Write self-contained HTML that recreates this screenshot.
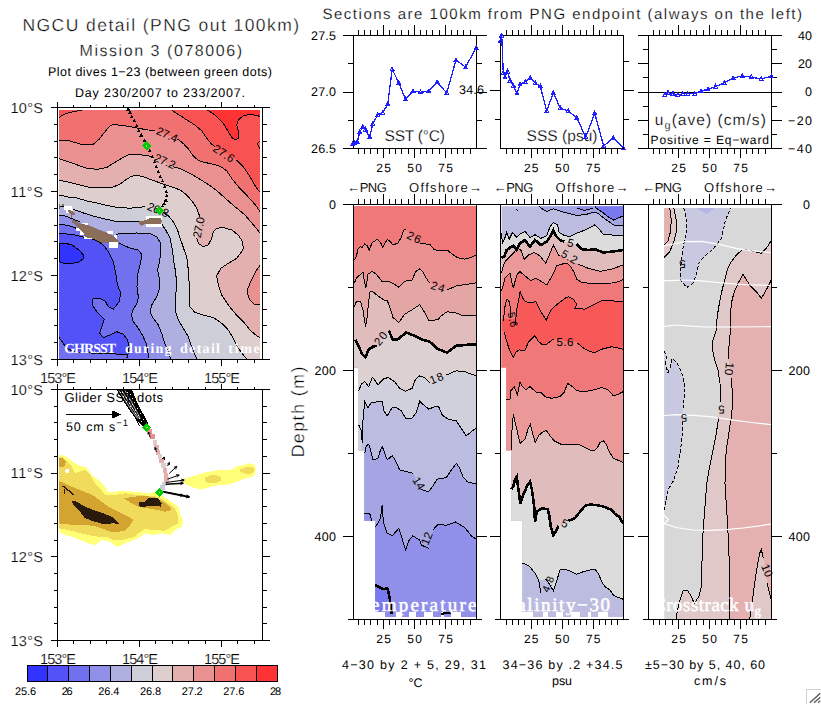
<!DOCTYPE html>
<html><head><meta charset="utf-8"><title>NGCU detail</title>
<style>html,body{margin:0;padding:0;background:#fff}svg{display:block}</style></head>
<body>
<svg width="821" height="704" viewBox="0 0 821 704" font-family='"Liberation Sans", sans-serif' shape-rendering="crispEdges" text-rendering="geometricPrecision">
<rect width="821" height="704" fill="#fff"/>
<text x="22.5" y="30.5" font-size="17.5" textLength="276.5" lengthAdjust="spacing" stroke="#fff" stroke-width="0.35" >NGCU detail (PNG out 100km)</text>
<text x="79.5" y="55.5" font-size="16" textLength="162.5" lengthAdjust="spacing" stroke="#fff" stroke-width="0.26" >Mission 3 (078006)</text>
<text x="48" y="76" font-size="12.5" textLength="224" lengthAdjust="spacing" >Plot dives 1−23 (between green dots)</text>
<text x="75" y="97" font-size="12.5" textLength="170" lengthAdjust="spacing" >Day 230/2007 to 233/2007.</text>
<text x="322.5" y="18.8" font-size="15" textLength="479.5" lengthAdjust="spacing" stroke="#fff" stroke-width="0.2" >Sections are 100km from PNG endpoint (always on the left)</text>
<g>
<rect x="59.0" y="110.0" width="201.2" height="248.5" fill="#f85252"/>
<polygon points="207.5,110.0 215.0,115.0 223.3,123.3 228.3,131.7 231.7,137.5 235.0,140.0 238.3,138.3 238.6,131.7 236.7,125.0 238.3,120.0 243.3,115.8 250.0,114.5 256.7,115.3 260.2,116.7 260.2,110.0" fill="#ff3333" />
<polygon points="59.0,358.5 59.0,117.5 63.3,114.7 68.3,112.8 75.0,111.3 82.5,110.0 171.7,110.0 176.7,113.5 183.3,117.5 186.7,120.0 195.0,125.0 201.7,130.8 206.7,138.3 211.7,144.2 215.0,146.7 236.7,160.0 243.3,166.7 250.0,176.7 256.7,188.3 260.2,192.5 260.2,358.5" fill="#f17171" />
<polygon points="59.0,358.5 59.0,140.8 66.7,140.0 73.3,142.0 81.7,144.5 93.3,144.2 99.2,139.2 105.0,131.7 110.0,125.8 113.3,124.7 121.7,125.3 130.0,126.7 138.3,128.3 148.3,130.0 155.0,130.3 177.5,139.0 183.3,143.5 188.0,148.5 193.2,155.7 198.5,160.6 205.0,162.5 213.3,164.2 220.8,166.7 226.7,170.8 231.7,178.3 238.3,186.7 246.7,195.3 255.0,204.5 260.2,211.7 260.2,358.5" fill="#eb9090" />
<polygon points="59.0,358.5 59.0,158.7 68.3,161.7 78.3,165.3 88.3,168.8 98.3,169.2 106.7,167.5 113.3,163.3 121.7,158.3 128.3,155.0 133.3,154.2 141.7,155.0 148.3,155.8 153.3,156.7 173.3,166.7 181.7,169.2 190.0,173.3 198.3,178.3 203.5,181.5 210.5,186.0 218.3,192.0 225.0,198.0 231.7,204.0 238.3,209.5 245.0,215.0 250.0,221.0 255.0,226.7 260.2,233.3 260.2,358.5" fill="#e4afaf" />
<polygon points="260.2,265.0 256.7,270.0 253.3,276.7 250.0,283.3 247.0,291.0 248.5,297.0 250.5,300.5 254.2,304.5 260.2,305.0" fill="#eb9090" />
<polygon points="59.0,358.5 59.0,180.3 68.3,182.0 78.3,184.7 88.3,187.0 100.0,187.8 111.7,187.5 120.0,184.2 126.7,179.2 131.7,176.2 136.7,175.3 143.3,176.7 151.7,179.9 161.7,183.5 171.7,186.8 180.0,190.0 186.7,195.0 192.5,201.7 196.7,208.3 199.2,215.0 200.0,217.0 196.7,238.3 198.3,243.3 203.3,246.7 208.3,245.0 211.7,238.3 213.3,231.7 216.7,228.3 223.3,227.5 231.7,230.0 238.3,235.0 242.5,241.7 243.3,248.3 241.7,251.7 236.7,258.3 228.3,263.3 220.8,268.3 216.7,275.8 218.3,285.0 221.7,295.0 228.3,305.0 235.0,313.3 243.3,321.7 250.0,330.0 256.7,335.8 260.2,337.5 260.2,358.5" fill="#decece" />
<polygon points="59.0,358.5 59.0,195.0 68.3,197.0 75.0,197.5 88.3,201.3 95.0,202.5 105.0,205.0 115.0,207.0 121.7,207.5 130.0,208.3 138.3,207.3 145.0,206.7 163.0,212.5 168.3,215.8 173.3,221.7 177.5,230.0 180.8,240.0 184.2,250.0 186.7,256.7 188.3,270.0 189.2,283.3 189.2,296.7 190.0,306.7 195.0,312.5 203.3,315.0 213.3,317.5 221.7,323.3 228.3,330.0 233.3,338.3 238.3,348.3 243.3,355.0 246.7,358.5" fill="#ceced9" />
<polygon points="59.0,358.5 59.0,206.0 65.0,207.0 75.0,210.0 85.0,213.5 95.0,216.5 105.0,219.0 115.0,221.2 125.0,221.5 137.0,221.2 141.0,221.4 161.7,224.2 165.8,230.0 170.0,238.3 172.5,250.0 173.3,258.3 175.8,273.3 176.7,286.7 175.0,300.0 175.0,310.0 178.3,320.0 183.3,328.3 188.3,336.7 191.7,346.7 195.0,355.0 196.7,358.5" fill="#afafe0" />
<polygon points="59.0,358.5 59.0,215.0 65.0,216.0 73.0,219.0 80.0,222.0 115.0,235.5 119.0,233.5 125.0,233.3 137.0,233.0 150.0,233.7 156.7,236.7 160.8,243.3 160.8,253.3 159.2,263.3 157.5,270.0 159.2,278.0 160.0,286.7 156.7,296.7 151.7,305.0 150.0,311.7 153.3,318.3 158.3,325.0 161.7,333.3 164.2,341.7 167.5,350.0 170.0,356.7 170.8,358.5" fill="#9090e8" />
<polygon points="59.0,358.5 59.0,224.0 65.0,225.0 72.0,226.5 78.0,229.0 117.0,242.0 125.0,246.0 130.0,248.0 138.3,250.0 142.0,255.0 140.0,265.0 137.5,275.0 137.0,286.7 138.3,296.7 137.5,302.5 133.3,309.2 131.3,315.0 133.3,321.7 138.3,328.3 143.3,336.7 146.7,345.0 148.0,353.3 148.3,358.5" fill="#7171ef" />
<polygon points="59.0,358.5 59.0,233.5 67.0,234.0 75.0,235.0 85.0,237.5 94.0,239.5 99.0,242.0 103.3,245.0 108.3,251.7 113.3,261.7 115.8,273.3 117.5,285.0 120.8,293.3 119.2,301.7 113.3,309.2 108.3,306.7 105.0,300.8 98.3,298.0 92.5,299.2 92.5,305.0 96.7,311.7 104.2,319.2 101.7,326.7 99.7,333.3 103.3,337.5 110.0,335.0 116.7,331.7 123.3,334.2 127.5,340.0 129.2,346.7 128.3,353.3 126.7,358.5" fill="#5252f7" />
<polygon points="59.0,337.5 63.0,343.0 67.0,348.5 75.0,352.0 90.0,353.0 110.0,353.5 126.7,355.0 127.5,358.5 59.0,358.5" fill="#7171ef" />
<polygon points="59.0,244.0 65.0,243.0 72.0,245.0 79.0,250.0 83.5,255.0 83.0,259.0 79.0,262.0 70.0,264.0 63.0,263.0 59.0,261.5" fill="#3333ff" />
<g shape-rendering="crispEdges">
<polyline points="207.5,110.0 215.0,115.0 223.3,123.3 228.3,131.7 231.7,137.5 235.0,140.0 238.3,138.3 238.6,131.7 236.7,125.0 238.3,120.0 243.3,115.8 250.0,114.5 256.7,115.3 260.2,116.7" fill="none" stroke="#000" stroke-width="1" />
<polyline points="260.2,140.8 257.7,143.5 258.5,146.5 260.2,149.2" fill="none" stroke="#000" stroke-width="1" />
<polyline points="59.0,117.5 63.3,114.7 68.3,112.8 75.0,111.3 82.5,110.0" fill="none" stroke="#000" stroke-width="1" />
<polyline points="59.0,233.5 67.0,234.0 75.0,235.0 85.0,237.5 94.0,239.5 99.0,242.0 103.3,245.0 108.3,251.7 113.3,261.7 115.8,273.3 117.5,285.0 120.8,293.3 119.2,301.7 113.3,309.2 108.3,306.7 105.0,300.8 98.3,298.0 92.5,299.2 92.5,305.0 96.7,311.7 104.2,319.2 101.7,326.7 99.7,333.3 103.3,337.5 110.0,335.0 116.7,331.7 123.3,334.2 127.5,340.0 129.2,346.7 128.3,353.3 126.7,358.5" fill="none" stroke="#000" stroke-width="1" />
<polyline points="59.0,337.5 63.0,343.0 67.0,348.5 75.0,352.0 90.0,353.0 110.0,353.5 126.7,355.0" fill="none" stroke="#000" stroke-width="1" />
<polyline points="59.0,244.0 65.0,243.0 72.0,245.0 79.0,250.0 83.5,255.0 83.0,259.0 79.0,262.0 70.0,264.0 63.0,263.0 59.0,261.5 59.0,244.0" fill="none" stroke="#000" stroke-width="1" />
<polyline points="260.2,265.0 256.7,270.0 253.3,276.7 250.0,283.3 247.0,291.0 248.5,297.0 250.5,300.5 254.2,304.5 260.2,305.0" fill="none" stroke="#000" stroke-width="1" />
<polyline points="171.7,110.0 176.7,113.5 183.3,117.5 186.7,120.0 195.0,125.0 201.7,130.8 206.7,138.3 211.7,144.2 215.0,146.7" fill="none" stroke="#000" stroke-width="1" />
<polyline points="236.7,160.0 243.3,166.7 250.0,176.7 256.7,188.3 260.2,192.5" fill="none" stroke="#000" stroke-width="1" />
<polyline points="59.0,140.8 66.7,140.0 73.3,142.0 81.7,144.5 93.3,144.2 99.2,139.2 105.0,131.7 110.0,125.8 113.3,124.7 121.7,125.3 130.0,126.7 138.3,128.3 148.3,130.0 155.0,130.3" fill="none" stroke="#000" stroke-width="1" />
<polyline points="177.5,139.0 183.3,143.5 188.0,148.5 193.2,155.7 198.5,160.6 205.0,162.5 213.3,164.2 220.8,166.7 226.7,170.8 231.7,178.3 238.3,186.7 246.7,195.3 255.0,204.5 260.2,211.7" fill="none" stroke="#000" stroke-width="1" />
<polyline points="59.0,158.7 68.3,161.7 78.3,165.3 88.3,168.8 98.3,169.2 106.7,167.5 113.3,163.3 121.7,158.3 128.3,155.0 133.3,154.2 141.7,155.0 148.3,155.8 153.3,156.7" fill="none" stroke="#000" stroke-width="1" />
<polyline points="173.3,166.7 181.7,169.2 190.0,173.3 198.3,178.3 203.5,181.5 210.5,186.0 218.3,192.0 225.0,198.0 231.7,204.0 238.3,209.5 245.0,215.0 250.0,221.0 255.0,226.7 260.2,233.3" fill="none" stroke="#000" stroke-width="1" />
<polyline points="59.0,180.3 68.3,182.0 78.3,184.7 88.3,187.0 100.0,187.8 111.7,187.5 120.0,184.2 126.7,179.2 131.7,176.2 136.7,175.3 143.3,176.7 151.7,179.9 161.7,183.5 171.7,186.8 180.0,190.0 186.7,195.0 192.5,201.7 196.7,208.3 199.2,215.0 200.0,217.0" fill="none" stroke="#000" stroke-width="1" />
<polyline points="196.7,238.3 198.3,243.3 203.3,246.7 208.3,245.0 211.7,238.3 213.3,231.7 216.7,228.3 223.3,227.5 231.7,230.0 238.3,235.0 242.5,241.7 243.3,248.3 241.7,251.7 236.7,258.3 228.3,263.3 220.8,268.3 216.7,275.8 218.3,285.0 221.7,295.0 228.3,305.0 235.0,313.3 243.3,321.7 250.0,330.0 256.7,335.8 260.2,337.5" fill="none" stroke="#000" stroke-width="1" />
<polyline points="59.0,195.0 68.3,197.0 75.0,197.5 88.3,201.3 95.0,202.5 105.0,205.0 115.0,207.0 121.7,207.5 130.0,208.3 138.3,207.3 145.0,206.7" fill="none" stroke="#000" stroke-width="1" />
<polyline points="163.0,212.5 168.3,215.8 173.3,221.7 177.5,230.0 180.8,240.0 184.2,250.0 186.7,256.7 188.3,270.0 189.2,283.3 189.2,296.7 190.0,306.7 195.0,312.5 203.3,315.0 213.3,317.5 221.7,323.3 228.3,330.0 233.3,338.3 238.3,348.3 243.3,355.0 246.7,358.5" fill="none" stroke="#000" stroke-width="1" />
<polyline points="59.0,206.0 65.0,207.0 75.0,210.0 85.0,213.5 95.0,216.5 105.0,219.0 115.0,221.2 125.0,221.5 137.0,221.2 141.0,221.4" fill="none" stroke="#000" stroke-width="1" />
<polyline points="161.7,224.2 165.8,230.0 170.0,238.3 172.5,250.0 173.3,258.3 175.8,273.3 176.7,286.7 175.0,300.0 175.0,310.0 178.3,320.0 183.3,328.3 188.3,336.7 191.7,346.7 195.0,355.0 196.7,358.5" fill="none" stroke="#000" stroke-width="1" />
<polyline points="59.0,215.0 65.0,216.0 73.0,219.0 80.0,222.0" fill="none" stroke="#000" stroke-width="1" />
<polyline points="115.0,235.5 119.0,233.5 125.0,233.3 137.0,233.0 150.0,233.7 156.7,236.7 160.8,243.3 160.8,253.3 159.2,263.3 157.5,270.0 159.2,278.0 160.0,286.7 156.7,296.7 151.7,305.0 150.0,311.7 153.3,318.3 158.3,325.0 161.7,333.3 164.2,341.7 167.5,350.0 170.0,356.7 170.8,358.5" fill="none" stroke="#000" stroke-width="1" />
<polyline points="59.0,224.0 65.0,225.0 72.0,226.5 78.0,229.0" fill="none" stroke="#000" stroke-width="1" />
<polyline points="117.0,242.0 125.0,246.0 130.0,248.0 138.3,250.0 142.0,255.0 140.0,265.0 137.5,275.0 137.0,286.7 138.3,296.7 137.5,302.5 133.3,309.2 131.3,315.0 133.3,321.7 138.3,328.3 143.3,336.7 146.7,345.0 148.0,353.3 148.3,358.5" fill="none" stroke="#000" stroke-width="1" />
</g>
<rect x="64" y="206" width="8" height="4" fill="#fff"/>
<rect x="66" y="209" width="7" height="4" fill="#fff"/>
<rect x="75.5" y="228" width="6" height="3" fill="#fff"/>
<rect x="80" y="231" width="5.5" height="4" fill="#fff"/>
<rect x="84" y="235.5" width="10.5" height="3.5" fill="#fff"/>
<rect x="82" y="223" width="6" height="2.5" fill="#fff"/>
<rect x="107" y="231" width="6" height="3" fill="#fff"/>
<rect x="113.5" y="235" width="3.5" height="4.5" fill="#fff"/>
<rect x="109" y="242" width="8.5" height="6" fill="#fff"/>
<rect x="146" y="216" width="16" height="4.5" fill="#fff"/>
<rect x="146" y="223.5" width="15.5" height="3.5" fill="#fff"/>
<polygon points="72.0,220.0 75.0,220.5 81.0,224.0 88.0,225.0 97.0,229.0 107.0,233.0 113.0,236.0 117.0,240.0 120.5,242.8 115.0,242.0 109.0,242.5 102.0,243.0 95.0,239.3 85.0,237.0 84.0,233.0 80.0,230.0 75.0,225.0 72.5,222.5" fill="#8b6e5a" />
<polygon points="68.0,210.0 71.0,210.5 75.0,213.0 75.0,215.5 72.0,215.0 69.0,213.0" fill="#8b6e5a" />
<rect x="62" y="204" width="2.2" height="2" fill="#8b6e5a"/><rect x="58.6" y="204" width="1.6" height="4.5" fill="#8b6e5a"/><rect x="70.5" y="215" width="1.5" height="2.5" fill="#8b6e5a"/>
<polygon points="139.0,221.3 139.5,223.5 141.5,226.0 143.5,224.8 146.0,223.8 152.0,223.5 161.0,223.5 162.0,221.0 161.0,218.3 157.0,217.5 150.0,217.5 147.0,219.5 143.0,221.0" fill="#8b6e5a" />
<text x="155.5" y="133.8" font-size="11.5" textLength="22" lengthAdjust="spacing" transform="rotate(24 155.5 133.8)" >27.4</text>
<text x="153.3" y="160.5" font-size="11.5" textLength="22" lengthAdjust="spacing" transform="rotate(24 153.3 160.5)" >27.2</text>
<text x="212" y="150.5" font-size="11.5" textLength="23" lengthAdjust="spacing" transform="rotate(33 212 150.5)" >27.6</text>
<text x="200.5" y="238.5" font-size="11.5" textLength="21" lengthAdjust="spacing" transform="rotate(-78 200.5 238.5)" >27.0</text>
<text x="146.5" y="209.5" font-size="11.5" textLength="22" lengthAdjust="spacing" transform="rotate(22 146.5 209.5)" >26.8</text>
<polygon points="126.4,110.5 130.2,110.5 128.3,107.0" fill="#000" />
<polygon points="128.1,114.0 131.9,114.0 130.0,110.5" fill="#000" />
<polygon points="129.8,118.2 133.6,118.2 131.7,114.7" fill="#000" />
<polygon points="132.3,122.3 136.1,122.3 134.2,118.8" fill="#000" />
<polygon points="134.8,127.3 138.6,127.3 136.7,123.8" fill="#000" />
<polygon points="136.9,132.0 140.7,132.0 138.8,128.5" fill="#000" />
<polygon points="139.4,136.5 143.2,136.5 141.3,133.0" fill="#000" />
<polygon points="142.8,141.8 146.6,141.8 144.7,138.3" fill="#000" />
<polygon points="144.8,147.3 148.6,147.3 146.7,143.8" fill="#000" />
<polygon points="147.8,152.3 151.6,152.3 149.7,148.8" fill="#000" />
<polygon points="150.6,158.2 154.4,158.2 152.5,154.7" fill="#000" />
<polygon points="152.6,163.2 156.4,163.2 154.5,159.7" fill="#000" />
<polygon points="154.4,168.2 158.2,168.2 156.3,164.7" fill="#000" />
<polygon points="156.4,173.2 160.2,173.2 158.3,169.7" fill="#000" />
<polygon points="158.4,177.8 162.2,177.8 160.3,174.3" fill="#000" />
<polygon points="160.6,182.3 164.4,182.3 162.5,178.8" fill="#000" />
<polygon points="162.8,188.2 166.6,188.2 164.7,184.7" fill="#000" />
<polygon points="164.4,193.2 168.2,193.2 166.3,189.7" fill="#000" />
<polygon points="164.8,197.3 168.6,197.3 166.7,193.8" fill="#000" />
<polygon points="163.9,201.5 167.7,201.5 165.8,198.0" fill="#000" />
<polygon points="162.3,204.8 166.1,204.8 164.2,201.3" fill="#000" />
<polygon points="160.6,207.3 164.4,207.3 162.5,203.8" fill="#000" />
<polygon points="157.3,211.8 161.1,211.8 159.2,208.3" fill="#000" />
<polygon points="142.1,145.8 146.7,141.2 151.3,145.8 146.7,150.4" fill="#00cc00" />
<rect x="146.2" y="145.3" width="1.2" height="1.2" fill="#e4afaf"/>
<polygon points="154.8,210.5 159.4,205.9 164.0,210.5 159.4,215.1" fill="#00cc00" />
<rect x="158.9" y="210.0" width="1.2" height="1.2" fill="#e4afaf"/>
<text x="64.2" y="353.3" font-size="14" textLength="52" lengthAdjust="spacing" fill="#fff" font-family='"Liberation Serif", serif' font-weight="bold" >GHRSST</text>
<text x="125" y="353.3" font-size="14" textLength="46.5" lengthAdjust="spacing" fill="#fff" font-family='"Liberation Serif", serif' font-weight="bold" >during</text>
<text x="180" y="353.3" font-size="14" textLength="40" lengthAdjust="spacing" fill="#fff" font-family='"Liberation Serif", serif' font-weight="bold" >detail</text>
<text x="228.3" y="353.3" font-size="14" textLength="31.5" lengthAdjust="spacing" fill="#fff" font-family='"Liberation Serif", serif' font-weight="bold" >time</text>
</g>
<g>
<polygon points="58.7,454.7 65.0,455.8 71.7,460.8 78.3,465.0 86.7,467.5 91.7,475.0 98.3,480.0 105.0,486.7 108.3,492.5 121.7,490.8 135.0,491.7 148.3,493.3 155.0,491.7 161.7,495.0 171.7,501.7 178.3,506.7 180.0,513.3 183.3,521.7 181.7,526.7 175.0,530.0 170.0,535.0 161.7,533.3 153.3,535.0 145.0,533.3 138.3,538.3 133.3,540.0 125.0,543.3 118.3,546.7 113.3,545.0 110.0,541.7 101.7,540.0 95.0,545.0 88.3,543.3 80.0,540.0 71.7,536.7 65.0,535.0 58.7,531.7" fill="#ffff78" />
<polygon points="58.7,456.7 63.3,457.5 66.7,461.7 71.7,466.7 75.0,473.3 85.0,470.0 90.8,475.8 95.0,483.3 100.0,488.3 105.0,495.0 113.3,495.0 125.0,493.3 138.3,495.0 148.3,495.8 158.3,496.7 168.3,503.3 175.0,508.3 177.5,515.0 178.3,523.3 171.7,526.7 165.0,530.8 155.0,530.0 145.0,529.2 138.3,533.3 135.0,536.7 128.3,538.3 121.7,540.0 113.3,540.0 106.7,536.7 98.3,536.7 88.3,535.0 80.0,533.3 71.7,530.8 63.3,529.2 58.7,528.3" fill="#f0dc5a" />
<polygon points="58.7,480.8 65.0,483.3 71.7,486.7 80.0,490.0 88.3,493.3 95.0,496.7 101.7,501.7 108.3,506.7 118.3,511.7 128.3,516.7 133.3,520.0 130.0,525.0 125.0,530.8 118.3,531.7 110.0,531.7 101.7,528.3 93.3,525.8 85.0,525.0 75.0,525.0 65.0,524.2 58.7,523.3" fill="#d4a431" />
<polygon points="58.7,457.5 63.3,458.3 65.8,461.7 65.0,465.8 61.7,467.5 58.7,466.7" fill="#d4a431" />
<polygon points="124.2,498.3 133.3,496.7 145.0,495.8 155.0,497.5 163.3,501.7 170.0,506.7 171.7,510.0 165.0,511.7 158.3,510.0 148.3,508.3 138.3,506.7 131.7,503.3" fill="#d4a431" />
<circle cx="67.3" cy="471" r="2.2" fill="#fff"/>
<polygon points="183.3,479.2 188.3,477.5 196.7,475.0 205.0,472.5 213.3,470.8 221.7,470.0 230.0,470.0 236.7,466.7 243.3,465.0 250.0,463.3 254.2,464.2 255.8,469.2 255.0,475.0 250.0,477.5 243.3,479.2 236.7,481.7 230.0,484.2 223.3,485.0 213.3,485.8 206.7,488.3 200.0,489.2 193.3,487.5 186.7,485.0 183.3,482.5" fill="#ffff78" />
<polygon points="205.0,477.5 211.7,475.0 220.0,475.8 221.7,480.0 216.7,482.5 208.3,483.3 205.0,480.8" fill="#f0dc5a" />
<polygon points="240.0,469.2 246.7,466.7 253.3,467.5 254.2,471.7 250.0,474.2 243.3,473.3 240.0,471.7" fill="#f0dc5a" />
<polygon points="71.7,500.8 76.7,501.7 85.0,506.7 93.3,510.0 103.3,513.3 111.7,516.7 117.5,521.7 120.0,524.2 113.3,523.3 103.3,524.2 95.0,521.7 85.0,518.3 80.0,511.7 73.3,505.0" fill="#2a1a0c" />
<polygon points="139.2,502.5 145.0,501.7 148.3,498.3 158.3,498.3 161.7,503.3 160.8,506.7 155.0,505.8 148.3,505.8 141.7,507.5 139.2,505.8" fill="#2a1a0c" />
<polyline points="62.5,485.8 66.0,488.5 70.0,491.5 73.3,495.0" fill="none" stroke="#2a1a0c" stroke-width="1.4" />
<polyline points="64.0,489.0 64.3,494.0" fill="none" stroke="#2a1a0c" stroke-width="1" />
<polygon points="116.8,390.0 132.3,390.0 137.5,403.0 143.0,413.5 148.0,423.0 144.5,428.5 137.5,421.5 130.5,411.5 122.5,399.5" fill="#000" />
<rect x="119.5" y="391.5" width="1.1" height="1.1" fill="#fff"/>
<rect x="121.5" y="392" width="1.1" height="1.1" fill="#fff"/>
<rect x="124.5" y="393" width="1.1" height="1.1" fill="#fff"/>
<rect x="127" y="392" width="1.1" height="1.1" fill="#fff"/>
<rect x="129.5" y="393.5" width="1.1" height="1.1" fill="#fff"/>
<rect x="126" y="397" width="1.1" height="1.1" fill="#fff"/>
<rect x="123" y="396" width="1.1" height="1.1" fill="#fff"/>
<rect x="129" y="399" width="1.1" height="1.1" fill="#fff"/>
<rect x="131.5" y="397.5" width="1.1" height="1.1" fill="#fff"/>
<rect x="128.5" y="402.5" width="1.1" height="1.1" fill="#fff"/>
<rect x="126" y="400.5" width="1.1" height="1.1" fill="#fff"/>
<rect x="131.5" y="404" width="1.1" height="1.1" fill="#fff"/>
<rect x="134" y="402" width="1.1" height="1.1" fill="#fff"/>
<rect x="132" y="407.5" width="1.1" height="1.1" fill="#fff"/>
<rect x="129.5" y="406" width="1.1" height="1.1" fill="#fff"/>
<rect x="134.5" y="409.5" width="1.1" height="1.1" fill="#fff"/>
<rect x="137" y="408" width="1.1" height="1.1" fill="#fff"/>
<rect x="135" y="412.5" width="1.1" height="1.1" fill="#fff"/>
<rect x="137.5" y="414.5" width="1.1" height="1.1" fill="#fff"/>
<rect x="140" y="413" width="1.1" height="1.1" fill="#fff"/>
<rect x="139" y="418" width="1.1" height="1.1" fill="#fff"/>
<rect x="141" y="420.5" width="1.1" height="1.1" fill="#fff"/>
<rect x="143" y="419" width="1.1" height="1.1" fill="#fff"/>
<polyline points="119.0,390.5 125.0,400.0 132.5,411.5 137.5,418.5" fill="none" stroke="#fff" stroke-width="0.7" shape-rendering="auto"/>
<polyline points="121.8,390.5 127.5,400.0 134.5,411.5 138.8,418.5" fill="none" stroke="#fff" stroke-width="0.7" shape-rendering="auto"/>
<polyline points="125.0,390.5 130.4,400.0 136.7,411.5 140.2,418.5" fill="none" stroke="#fff" stroke-width="0.7" shape-rendering="auto"/>
<polyline points="139.5,426.0 135.3,417.5 139.5,421.0" fill="none" stroke="#000" stroke-width="1" />
<rect x="147.1" y="429.3" width="4.4" height="4.8" fill="#eb9090"/>
<rect x="150.2" y="434.2" width="4.4" height="4.8" fill="#eb9090"/>
<rect x="152.6" y="439.7" width="4.4" height="4.8" fill="#decece"/>
<rect x="154.4" y="445.2" width="4.4" height="4.8" fill="#e4afaf"/>
<rect x="156.0" y="450.0" width="4.4" height="4.8" fill="#e4afaf"/>
<rect x="157.5" y="454.3" width="4.4" height="4.8" fill="#decece"/>
<rect x="159.3" y="458.6" width="4.4" height="4.8" fill="#e4afaf"/>
<rect x="161.1" y="463.4" width="4.4" height="4.8" fill="#decece"/>
<rect x="162.6" y="468.1" width="4.4" height="4.8" fill="#e4afaf"/>
<rect x="163.8" y="472.6" width="4.4" height="4.8" fill="#e4afaf"/>
<rect x="164.1" y="477.1" width="4.4" height="4.8" fill="#e4afaf"/>
<rect x="162.3" y="481.6" width="4.4" height="4.8" fill="#ceced9"/>
<rect x="160.3" y="485.1" width="4.4" height="4.8" fill="#ceced9"/>
<polyline points="164.7,483.5 160.0,491.5" fill="none" stroke="#ceced9" stroke-width="3.4" />
<g shape-rendering="auto">
<polyline points="163.5,459.0 164.3,457.0" fill="none" stroke="#000" stroke-width="1" />
<polyline points="164.3,457.0 164.5,460.0" fill="none" stroke="#000" stroke-width="1" />
<polyline points="164.3,457.0 162.1,459.0" fill="none" stroke="#000" stroke-width="1" />
<polyline points="167.5,466.0 169.5,462.5" fill="none" stroke="#000" stroke-width="1" />
<polyline points="169.5,462.5 169.3,465.0" fill="none" stroke="#000" stroke-width="1" />
<polyline points="169.5,462.5 167.4,463.9" fill="none" stroke="#000" stroke-width="1" />
<polyline points="169.2,473.5 176.8,466.3" fill="none" stroke="#000" stroke-width="1" />
<polyline points="176.8,466.3 175.7,469.3" fill="none" stroke="#000" stroke-width="1" />
<polyline points="176.8,466.3 173.8,467.3" fill="none" stroke="#000" stroke-width="1" />
<polyline points="167.5,479.2 179.2,475.0" fill="none" stroke="#000" stroke-width="1" />
<polyline points="179.2,475.0 177.0,477.3" fill="none" stroke="#000" stroke-width="1" />
<polyline points="179.2,475.0 176.0,474.7" fill="none" stroke="#000" stroke-width="1" />
<polyline points="165.8,482.5 184.2,480.0" fill="none" stroke="#000" stroke-width="1" />
<polyline points="184.2,480.0 181.5,481.8" fill="none" stroke="#000" stroke-width="1" />
<polyline points="184.2,480.0 181.2,479.0" fill="none" stroke="#000" stroke-width="1" />
<polyline points="165.8,484.2 183.3,483.2" fill="none" stroke="#000" stroke-width="1.6" />
<polyline points="183.3,483.2 180.5,484.8" fill="none" stroke="#000" stroke-width="1" />
<polyline points="183.3,483.2 180.3,482.0" fill="none" stroke="#000" stroke-width="1" />
<polyline points="162.5,491.7 189.5,497.0" fill="none" stroke="#000" stroke-width="1.8" />
<polyline points="189.5,497.0 186.0,497.9" fill="none" stroke="#000" stroke-width="1" />
<polyline points="189.5,497.0 186.6,494.8" fill="none" stroke="#000" stroke-width="1" />
<polyline points="162.5,491.7 183.0,495.5" fill="none" stroke="#000" stroke-width="1.2" />
<polyline points="183.0,495.5 180.1,496.3" fill="none" stroke="#000" stroke-width="1" />
<polyline points="183.0,495.5 180.6,493.7" fill="none" stroke="#000" stroke-width="1" />
<polyline points="150.2,437.5 148.4,432.0" fill="none" stroke="#000" stroke-width="1" />
<polyline points="148.4,432.0 150.1,433.8" fill="none" stroke="#000" stroke-width="1" />
<polyline points="148.4,432.0 148.1,434.5" fill="none" stroke="#000" stroke-width="1" />
<polyline points="156.5,452.0 155.2,447.5" fill="none" stroke="#000" stroke-width="1" />
<polyline points="155.2,447.5 156.9,449.4" fill="none" stroke="#000" stroke-width="1" />
<polyline points="155.2,447.5 154.8,450.0" fill="none" stroke="#000" stroke-width="1" />
</g>
<polygon points="142.2,427.5 146.8,422.9 151.4,427.5 146.8,432.1" fill="#00cc00" />
<rect x="146.3" y="427.0" width="1.2" height="1.2" fill="#e4afaf"/>
<polygon points="154.8,492.6 159.4,488.0 164.0,492.6 159.4,497.2" fill="#00cc00" />
<rect x="158.9" y="492.1" width="1.2" height="1.2" fill="#e4afaf"/>
<text x="64.5" y="402.3" font-size="13" textLength="98.5" lengthAdjust="spacing" >Glider SST dots</text>
<rect x="66.00" y="414.00" width="48.00" height="1" fill="#000"/>
<polygon points="112.0,410.3 121.3,414.5 112.0,418.7" fill="#000" />
<text x="66" y="431" font-size="12.5" textLength="62" lengthAdjust="spacing">50 cm s<tspan font-size="9.5" dy="-5">−1</tspan></text>
</g>
<clipPath id="ct"><polygon points="354.0,206.0 354.0,367.5 358.0,367.5 358.0,450.5 364.2,450.5 364.2,520.8 375.2,520.8 375.2,611.8 476.3,611.8 476.3,206.0"/></clipPath>
<g clip-path="url(#ct)">
<rect x="354" y="205" width="123" height="413" fill="#f07878"/>
<polygon points="354.0,617.0 354.0,260.0 354.3,260.0 356.3,256.7 358.0,249.2 360.5,246.7 362.2,247.5 364.7,243.7 367.2,245.8 369.3,250.0 372.2,242.5 377.2,239.5 380.5,242.5 382.7,247.2 387.2,239.5 390.5,241.7 393.0,245.0 398.0,243.0 401.3,237.5 403.8,230.0 405.5,229.2 419.7,243.7 429.7,244.2 433.8,249.2 438.0,250.8 447.2,250.0 452.2,254.2 457.2,257.5 464.7,259.2 471.3,257.5 476.3,254.7 476.3,254.7 476.3,617.0" fill="#eb9090" />
<polygon points="354.0,617.0 354.0,283.3 354.3,283.3 356.3,278.3 359.7,275.0 363.0,272.5 364.7,283.3 366.0,287.5 368.0,274.2 372.2,271.3 376.3,274.2 382.2,281.7 388.0,281.2 393.0,283.3 398.8,287.2 404.7,281.2 412.2,280.0 415.5,271.7 419.7,268.8 423.0,271.7 426.3,278.3 429.7,283.3 447.2,290.0 456.3,285.8 464.7,284.7 476.3,282.8 476.3,282.8 476.3,617.0" fill="#e4a5a5" />
<polygon points="354.0,617.0 354.0,306.7 354.3,306.7 356.3,301.7 360.5,301.3 363.0,310.0 365.5,326.7 367.2,316.7 368.8,300.0 370.0,292.0 372.2,291.3 378.0,295.8 383.8,300.0 387.2,300.5 389.7,306.7 393.0,317.5 398.8,322.5 404.7,314.2 413.0,309.2 419.7,304.7 424.7,312.5 428.8,320.8 438.0,319.7 441.3,315.8 447.2,311.7 456.3,313.0 463.0,315.8 476.3,315.8 476.3,315.8 476.3,617.0" fill="#e0bcbc" />
<polygon points="354.0,617.0 354.0,340.0 355.5,340.0 358.8,346.7 362.2,354.2 365.5,357.5 368.8,349.2 373.0,346.7 377.2,345.8 388.8,330.8 393.0,340.0 398.0,339.2 406.3,332.5 414.7,335.8 421.3,339.2 429.7,341.7 438.0,349.2 447.2,352.5 456.3,345.8 464.7,345.0 476.3,344.2 476.3,344.2 476.3,617.0" fill="#dcd0d0" />
<polygon points="354.0,617.0 354.0,390.8 358.8,390.8 361.3,384.2 364.7,381.7 368.8,386.7 372.2,377.5 374.7,380.0 378.0,385.0 383.0,379.2 388.0,377.5 394.7,381.7 399.7,388.3 405.5,391.3 412.2,388.3 415.5,379.2 419.7,375.8 424.7,377.5 429.7,382.5 446.3,375.0 456.3,370.8 464.7,371.7 476.3,375.8 476.3,375.8 476.3,617.0" fill="#d0d0dc" />
<polygon points="354.0,617.0 354.0,452.0 357.0,452.0 362.4,452.0 362.4,442.5 363.0,420.0 364.7,401.7 368.0,407.5 371.3,402.5 382.2,401.3 383.8,410.8 387.2,415.8 392.2,407.5 396.3,407.5 401.3,410.8 405.5,418.0 412.2,418.0 416.3,412.5 419.7,401.3 423.8,405.0 428.8,409.2 434.7,406.7 438.8,407.0 442.2,415.0 448.0,419.2 456.3,420.8 461.3,428.3 466.3,435.8 471.3,431.7 476.3,428.0 476.3,428.0 476.3,617.0" fill="#bcbce0" />
<polygon points="354.0,617.0 354.0,453.3 364.7,453.3 366.3,445.8 368.8,444.2 370.5,450.0 373.0,460.0 378.0,458.3 380.5,450.0 382.2,446.3 384.7,453.3 387.2,459.7 392.2,455.8 394.7,459.2 399.7,470.0 406.3,471.7 413.0,473.3 421.3,489.2 428.0,492.0 431.3,488.3 437.2,479.2 446.3,477.5 451.3,470.0 456.3,463.3 459.7,468.3 463.0,476.7 467.2,481.7 476.3,484.2 476.3,484.2 476.3,617.0" fill="#a5a5e4" />
<polygon points="364.0,617.0 364.0,513.0 364.2,513.0 369.7,513.3 371.7,520.8 371.7,527.0 375.2,527.0 375.2,527.0 377.2,524.2 380.5,518.3 382.2,505.0 383.3,521.7 387.2,533.3 392.2,535.8 398.8,528.3 401.3,535.8 405.5,550.0 408.8,540.8 412.7,535.8 419.7,540.0 421.3,545.0 428.8,548.3 433.0,530.0 438.0,524.2 446.3,525.3 455.5,522.0 464.7,527.5 471.3,535.8 476.3,539.2 476.3,539.2 476.3,617.0" fill="#9090eb" />
<polygon points="375.2,585.0 378.8,586.7 383.0,589.2 387.2,588.3 388.8,593.3 390.5,603.3 391.7,614.2 375.0,614.2" fill="#7878f0" />
</g>
<rect x="385" y="611.5" width="10.5" height="5.2" fill="#9090eb"/>
<rect x="402" y="611.5" width="7" height="5.2" fill="#9090eb"/>
<rect x="415.5" y="611.5" width="8.5" height="5.2" fill="#9090eb"/>
<rect x="433" y="611.5" width="8.300000000000011" height="5.2" fill="#9090eb"/>
<rect x="443.8" y="611.5" width="7.5" height="5.2" fill="#9090eb"/>
<rect x="460.5" y="611.5" width="15.800000000000011" height="5.2" fill="#9090eb"/>
<g>
<polyline points="354.3,260.0 356.3,256.7 358.0,249.2 360.5,246.7 362.2,247.5 364.7,243.7 367.2,245.8 369.3,250.0 372.2,242.5 377.2,239.5 380.5,242.5 382.7,247.2 387.2,239.5 390.5,241.7 393.0,245.0 398.0,243.0 401.3,237.5 403.8,230.0 405.5,229.2" fill="none" stroke="#000" stroke-width="1" shape-rendering="crispEdges"/>
<polyline points="419.7,243.7 429.7,244.2 433.8,249.2 438.0,250.8 447.2,250.0 452.2,254.2 457.2,257.5 464.7,259.2 471.3,257.5 476.3,254.7" fill="none" stroke="#000" stroke-width="1" shape-rendering="crispEdges"/>
<polyline points="354.3,283.3 356.3,278.3 359.7,275.0 363.0,272.5 364.7,283.3 366.0,287.5 368.0,274.2 372.2,271.3 376.3,274.2 382.2,281.7 388.0,281.2 393.0,283.3 398.8,287.2 404.7,281.2 412.2,280.0 415.5,271.7 419.7,268.8 423.0,271.7 426.3,278.3 429.7,283.3" fill="none" stroke="#000" stroke-width="1" shape-rendering="crispEdges"/>
<polyline points="447.2,290.0 456.3,285.8 464.7,284.7 476.3,282.8" fill="none" stroke="#000" stroke-width="1" shape-rendering="crispEdges"/>
<polyline points="354.3,306.7 356.3,301.7 360.5,301.3 363.0,310.0 365.5,326.7 367.2,316.7 368.8,300.0 370.0,292.0 372.2,291.3 378.0,295.8 383.8,300.0 387.2,300.5 389.7,306.7 393.0,317.5 398.8,322.5 404.7,314.2 413.0,309.2 419.7,304.7 424.7,312.5 428.8,320.8 438.0,319.7 441.3,315.8 447.2,311.7 456.3,313.0 463.0,315.8 476.3,315.8" fill="none" stroke="#000" stroke-width="1" shape-rendering="crispEdges"/>
<polyline points="358.8,390.8 361.3,384.2 364.7,381.7 368.8,386.7 372.2,377.5 374.7,380.0 378.0,385.0 383.0,379.2 388.0,377.5 394.7,381.7 399.7,388.3 405.5,391.3 412.2,388.3 415.5,379.2 419.7,375.8 424.7,377.5 429.7,382.5" fill="none" stroke="#000" stroke-width="1" shape-rendering="crispEdges"/>
<polyline points="446.3,375.0 456.3,370.8 464.7,371.7 476.3,375.8" fill="none" stroke="#000" stroke-width="1" shape-rendering="crispEdges"/>
<polyline points="358.8,425.0 361.3,430.8 362.2,442.5 363.0,420.0 364.7,401.7 368.0,407.5 371.3,402.5 382.2,401.3 383.8,410.8 387.2,415.8 392.2,407.5 396.3,407.5 401.3,410.8 405.5,418.0 412.2,418.0 416.3,412.5 419.7,401.3 423.8,405.0 428.8,409.2 434.7,406.7 438.8,407.0 442.2,415.0 448.0,419.2 456.3,420.8 461.3,428.3 466.3,435.8 471.3,431.7 476.3,428.0" fill="none" stroke="#000" stroke-width="1" shape-rendering="crispEdges"/>
<polyline points="364.7,453.3 366.3,445.8 368.8,444.2 370.5,450.0 373.0,460.0 378.0,458.3 380.5,450.0 382.2,446.3 384.7,453.3 387.2,459.7 392.2,455.8 394.7,459.2 399.7,470.0 406.3,471.7 413.0,473.3" fill="none" stroke="#000" stroke-width="1" shape-rendering="crispEdges"/>
<polyline points="421.3,489.2 428.0,492.0 431.3,488.3 437.2,479.2 446.3,477.5 451.3,470.0 456.3,463.3 459.7,468.3 463.0,476.7 467.2,481.7 476.3,484.2" fill="none" stroke="#000" stroke-width="1" shape-rendering="crispEdges"/>
<polyline points="375.2,527.0 377.2,524.2 380.5,518.3 382.2,505.0 383.3,521.7 387.2,533.3 392.2,535.8 398.8,528.3 401.3,535.8 405.5,550.0 408.8,540.8 412.7,535.8 419.7,540.0 421.3,545.0 428.8,548.3" fill="none" stroke="#000" stroke-width="1" shape-rendering="crispEdges"/>
<polyline points="433.0,530.0 438.0,524.2 446.3,525.3 455.5,522.0 464.7,527.5 471.3,535.8 476.3,539.2" fill="none" stroke="#000" stroke-width="1" shape-rendering="crispEdges"/>
<polyline points="364.2,513.0 369.7,513.3 371.7,520.8" fill="none" stroke="#000" stroke-width="1" shape-rendering="crispEdges"/>
<polyline points="355.5,340.0 358.8,346.7 362.2,354.2 365.5,357.5 368.8,349.2 373.0,346.7 377.2,345.8" fill="none" stroke="#000" stroke-width="2.6" />
<polyline points="388.8,330.8 393.0,340.0 398.0,339.2 406.3,332.5 414.7,335.8 421.3,339.2 429.7,341.7 438.0,349.2 447.2,352.5 456.3,345.8 464.7,345.0 476.3,344.2" fill="none" stroke="#000" stroke-width="2.6" />
<polyline points="375.2,585.0 378.8,586.7 383.0,589.2 387.2,588.3 388.8,593.3 390.5,603.3 391.7,614.2" fill="none" stroke="#000" stroke-width="2.6" />
<polyline points="441.3,614.5 445.0,613.0 450.5,612.8" fill="none" stroke="#000" stroke-width="2.4" />
</g>
<text x="406" y="238" font-size="11.5" textLength="14" lengthAdjust="spacing" transform="rotate(25 406 238)" >26</text>
<text x="430" y="288.5" font-size="11.5" textLength="14" lengthAdjust="spacing" transform="rotate(18 430 288.5)" >24</text>
<text x="379.5" y="346.5" font-size="11.5" textLength="14" lengthAdjust="spacing" transform="rotate(-52 379.5 346.5)" >20</text>
<text x="431.5" y="384.5" font-size="11.5" textLength="14" lengthAdjust="spacing" transform="rotate(-22 431.5 384.5)" >18</text>
<text x="412" y="480" font-size="11.5" textLength="13" lengthAdjust="spacing" transform="rotate(58 412 480)" >14</text>
<text x="428" y="546" font-size="11.5" textLength="13" lengthAdjust="spacing" transform="rotate(-68 428 546)" >12</text>
<text x="358.5" y="611.3" font-size="19" textLength="118" lengthAdjust="spacing" fill="#fff" font-family='"Liberation Serif", serif' stroke="#fff" stroke-width="0.5">Temperature</text>
<clipPath id="cs"><polygon points="501.6,206.3 501.6,367.5 506.3,367.5 506.3,450.5 511.2,450.5 511.2,520.8 522.2,520.8 522.2,611.8 623.2,611.8 623.2,206.3"/></clipPath>
<g clip-path="url(#cs)">
<rect x="500" y="205" width="125" height="413" fill="#bcbce0"/>
<polygon points="539.0,206.3 541.2,208.2 546.8,211.5 553.5,208.7 563.0,212.1 575.4,215.2 584.3,214.9 594.4,212.1 597.8,213.2 603.4,217.7 613.5,225.0 623.0,225.3 623.2,206.0" fill="#a5a5e4" />
<polygon points="595.0,206.3 596.1,208.2 602.3,212.1 607.9,216.6 613.5,220.0 623.0,216.0 623.2,206.0" fill="#7878f0" />
<polygon points="577.0,206.3 577.5,208.2 584.3,210.4 593.3,208.2 593.5,206.3" fill="#9090eb" />
<polygon points="501.0,617.0 501.0,233.3 501.3,233.3 502.5,243.3 504.2,240.0 506.7,232.5 509.2,239.2 512.5,232.5 516.7,237.5 520.0,234.2 525.0,231.3 530.0,237.5 535.0,234.7 540.8,238.3 546.7,235.8 550.0,226.7 553.3,222.5 557.5,225.0 559.2,232.5 565.0,235.8 570.0,236.3 576.7,233.3 585.0,230.0 591.7,226.7 595.0,224.7 598.3,228.3 603.3,234.2 611.7,235.0 623.0,235.0 623.2,235.0 623.2,617.0" fill="#dcdcdc" />
<polygon points="501.0,617.0 501.0,257.5 501.3,257.5 504.2,256.7 506.7,250.0 510.0,247.5 513.3,245.8 516.7,250.0 520.0,243.3 525.0,240.0 530.0,246.7 535.0,240.0 540.8,245.0 546.7,241.7 550.8,235.8 553.3,230.0 555.8,235.8 560.0,240.0 564.2,241.7 576.7,244.2 581.7,249.2 588.3,250.0 595.0,249.2 603.3,252.5 611.7,251.7 623.0,250.0 623.2,250.0 623.2,617.0" fill="#e0bcbc" />
<polygon points="501.0,617.0 501.0,273.3 501.3,273.3 503.3,265.8 505.0,261.7 508.3,258.3 513.3,253.3 517.5,248.3 520.8,250.0 524.2,259.2 528.3,255.0 534.2,252.5 540.0,255.8 545.8,263.3 550.0,253.3 553.3,245.0 556.7,251.7 559.2,255.8 578.3,264.2 588.3,268.3 600.0,271.3 611.7,269.2 623.0,265.0 623.2,265.0 623.2,617.0" fill="#ea9898" />
<polygon points="501.0,617.0 501.0,290.8 501.3,290.8 503.3,285.0 505.0,278.3 507.5,275.8 510.0,273.3 511.7,281.7 513.3,288.3 515.8,278.3 517.5,274.2 520.0,271.7 525.0,275.8 530.8,280.8 535.8,278.3 541.7,281.7 546.7,285.0 550.8,278.3 554.2,271.7 556.7,265.8 561.7,264.2 566.7,263.0 570.8,266.7 574.2,272.5 576.7,279.2 581.7,282.5 590.0,283.3 601.7,283.3 611.7,283.0 618.3,281.7 623.0,279.7 623.2,279.7 623.2,617.0" fill="#f07878" />
<polygon points="501.0,331.0 501.0,319.0 515.0,319.0 515.3,325.0 516.7,310.0 518.5,301.0 520.2,291.3 522.4,297.5 525.3,301.5 529.8,302.6 535.8,301.7 540.8,311.7 546.3,320.0 550.8,310.0 558.3,303.3 565.0,298.3 568.3,296.7 573.3,299.2 576.7,304.2 575.0,308.3 585.0,309.2 593.3,305.0 603.3,300.0 611.7,300.8 623.0,301.7 623.2,349.2 623.0,349.2 611.7,346.7 601.7,349.2 594.2,353.0 585.0,349.2 576.7,342.5 553.3,339.2 546.9,344.1 541.7,344.1 537.8,340.7 534.9,335.6 528.7,341.8 524.7,350.9 519.0,349.8 516.2,352.0 513.3,357.7 509.4,349.8 506.5,340.7 504.2,331.6" fill="#f85858" />
<polygon points="501.0,617.0 501.0,400.0 506.3,400.0 510.0,399.2 510.8,390.8 514.2,386.7 517.5,395.0 520.0,382.5 522.5,386.7 525.8,390.0 530.0,386.7 536.7,392.5 540.8,392.5 545.0,396.7 551.7,398.3 560.0,396.7 564.2,392.5 567.5,383.3 572.5,386.7 576.7,390.8 585.0,391.7 593.3,390.0 601.7,387.5 608.3,390.0 613.3,395.8 618.3,394.2 623.0,391.7 623.2,391.7 623.2,617.0" fill="#ea9898" />
<polygon points="501.0,617.0 501.0,450.0 511.2,450.0 511.7,433.3 513.3,414.2 515.8,425.0 520.0,443.3 525.0,439.2 528.3,428.3 530.3,424.2 532.5,433.3 535.3,442.5 539.2,435.0 543.3,431.7 546.3,430.3 550.0,435.8 554.2,440.8 560.8,444.2 567.5,445.0 571.7,444.2 578.3,444.2 585.0,447.5 590.0,450.0 594.2,450.8 597.5,447.5 600.0,442.5 603.3,440.8 606.3,444.2 609.2,451.7 613.3,458.3 618.3,460.3 623.0,462.5 623.2,462.5 623.2,617.0" fill="#e0bcbc" />
<polygon points="501.0,617.0 501.0,489.2 511.2,489.2 513.3,486.7 515.0,479.2 516.7,476.7 518.3,488.3 520.3,503.3 523.3,495.0 527.5,485.0 530.0,481.7 532.0,490.0 534.2,506.7 535.0,521.7 536.7,511.7 541.7,508.3 547.5,509.2 549.2,515.0 550.8,526.7 553.3,535.0 556.7,530.0 558.3,525.8 568.3,520.8 575.0,518.3 580.0,511.7 585.0,505.8 590.0,504.5 598.3,505.3 605.0,507.0 611.7,510.0 615.0,514.0 619.2,516.7 623.0,523.3 623.2,523.3 623.2,617.0" fill="#dcdcdc" />
<polygon points="501.0,617.0 501.0,563.3 522.2,563.3 525.8,564.2 530.0,566.7 535.0,573.3 538.7,580.0 545.8,579.2 550.0,585.0 553.3,590.8 556.7,580.8 560.0,570.0 565.0,569.2 571.7,571.7 576.7,574.2 583.3,571.7 590.0,570.0 595.0,569.2 598.3,573.3 601.7,581.7 605.0,586.7 610.0,590.0 613.3,595.0 618.3,597.5 623.0,599.2 623.2,599.2 623.2,617.0" fill="#bcbce0" />
</g>
<rect x="532.5" y="611.5" width="10.799999999999955" height="5.2" fill="#bcbce0"/>
<rect x="548.3" y="611.5" width="7.5" height="5.2" fill="#bcbce0"/>
<rect x="563.3" y="611.5" width="7.5" height="5.2" fill="#bcbce0"/>
<rect x="580" y="611.5" width="8.299999999999955" height="5.2" fill="#bcbce0"/>
<rect x="590.8" y="611.5" width="7.5" height="5.2" fill="#bcbce0"/>
<rect x="608.3" y="611.5" width="14.900000000000091" height="5.2" fill="#bcbce0"/>
<polyline points="539.0,206.3 541.2,208.2 546.8,211.5 553.5,208.7 563.0,212.1 575.4,215.2 584.3,214.9 594.4,212.1 597.8,213.2 603.4,217.7 613.5,225.0 623.0,225.3" fill="none" stroke="#000" stroke-width="1" shape-rendering="crispEdges"/>
<polyline points="595.0,206.3 596.1,208.2 602.3,212.1 607.9,216.6 613.5,220.0 623.0,216.0" fill="none" stroke="#000" stroke-width="1" shape-rendering="crispEdges"/>
<polyline points="577.5,208.2 584.3,210.4 593.3,208.2" fill="none" stroke="#000" stroke-width="1" shape-rendering="crispEdges"/>
<polyline points="501.3,233.3 502.5,243.3 504.2,240.0 506.7,232.5 509.2,239.2 512.5,232.5 516.7,237.5 520.0,234.2 525.0,231.3 530.0,237.5 535.0,234.7 540.8,238.3 546.7,235.8 550.0,226.7 553.3,222.5 557.5,225.0 559.2,232.5 565.0,235.8 570.0,236.3 576.7,233.3 585.0,230.0 591.7,226.7 595.0,224.7 598.3,228.3 603.3,234.2 611.7,235.0 623.0,235.0" fill="none" stroke="#000" stroke-width="1" shape-rendering="crispEdges"/>
<polyline points="501.3,290.8 503.3,285.0 505.0,278.3 507.5,275.8 510.0,273.3 511.7,281.7 513.3,288.3 515.8,278.3 517.5,274.2 520.0,271.7 525.0,275.8 530.8,280.8 535.8,278.3 541.7,281.7 546.7,285.0 550.8,278.3 554.2,271.7 556.7,265.8 561.7,264.2 566.7,263.0 570.8,266.7 574.2,272.5 576.7,279.2 581.7,282.5 590.0,283.3 601.7,283.3 611.7,283.0 618.3,281.7 623.0,279.7" fill="none" stroke="#000" stroke-width="1" shape-rendering="crispEdges"/>
<polyline points="515.3,325.0 516.7,310.0 518.5,301.0 520.2,291.3 522.4,297.5 525.3,301.5 529.8,302.6 535.8,301.7 540.8,311.7 546.3,320.0 550.8,310.0 558.3,303.3 565.0,298.3 568.3,296.7 573.3,299.2 576.7,304.2 575.0,308.3 585.0,309.2 593.3,305.0 603.3,300.0 611.7,300.8 623.0,301.7" fill="none" stroke="#000" stroke-width="1" shape-rendering="crispEdges"/>
<polyline points="503.1,321.4 504.2,313.4 505.4,303.2 507.1,299.2 509.4,302.0 510.5,308.9 510.0,318.0" fill="none" stroke="#000" stroke-width="1" shape-rendering="crispEdges"/>
<polyline points="506.3,400.0 510.0,399.2 510.8,390.8 514.2,386.7 517.5,395.0 520.0,382.5 522.5,386.7 525.8,390.0 530.0,386.7 536.7,392.5 540.8,392.5 545.0,396.7 551.7,398.3 560.0,396.7 564.2,392.5 567.5,383.3 572.5,386.7 576.7,390.8 585.0,391.7 593.3,390.0 601.7,387.5 608.3,390.0 613.3,395.8 618.3,394.2 623.0,391.7" fill="none" stroke="#000" stroke-width="1" shape-rendering="crispEdges"/>
<polyline points="511.2,450.0 511.7,433.3 513.3,414.2 515.8,425.0 520.0,443.3 525.0,439.2 528.3,428.3 530.3,424.2 532.5,433.3 535.3,442.5 539.2,435.0 543.3,431.7 546.3,430.3 550.0,435.8 554.2,440.8 560.8,444.2 567.5,445.0 571.7,444.2 578.3,444.2 585.0,447.5 590.0,450.0 594.2,450.8 597.5,447.5 600.0,442.5 603.3,440.8 606.3,444.2 609.2,451.7 613.3,458.3 618.3,460.3 623.0,462.5" fill="none" stroke="#000" stroke-width="1" shape-rendering="crispEdges"/>
<polyline points="501.3,273.3 503.3,265.8 505.0,261.7 508.3,258.3 513.3,253.3 517.5,248.3 520.8,250.0 524.2,259.2 528.3,255.0 534.2,252.5 540.0,255.8 545.8,263.3 550.0,253.3 553.3,245.0 556.7,251.7 559.2,255.8" fill="none" stroke="#000" stroke-width="1" shape-rendering="crispEdges"/>
<polyline points="578.3,264.2 588.3,268.3 600.0,271.3 611.7,269.2 623.0,265.0" fill="none" stroke="#000" stroke-width="1" shape-rendering="crispEdges"/>
<polyline points="504.2,331.6 506.5,340.7 509.4,349.8 513.3,357.7 516.2,352.0 519.0,349.8 524.7,350.9 528.7,341.8 534.9,335.6 537.8,340.7 541.7,344.1 546.9,344.1 553.3,339.2" fill="none" stroke="#000" stroke-width="1" shape-rendering="crispEdges"/>
<polyline points="576.7,342.5 585.0,349.2 594.2,353.0 601.7,349.2 611.7,346.7 623.0,349.2" fill="none" stroke="#000" stroke-width="1" shape-rendering="crispEdges"/>
<polyline points="522.2,563.3 525.8,564.2 530.0,566.7 535.0,573.3 538.7,580.0 540.0,588.3 540.8,593.3" fill="none" stroke="#000" stroke-width="1" shape-rendering="crispEdges"/>
<polyline points="545.8,579.2 550.0,585.0 553.3,590.8 556.7,580.8 560.0,570.0 565.0,569.2 571.7,571.7 576.7,574.2 583.3,571.7 590.0,570.0 595.0,569.2 598.3,573.3 601.7,581.7 605.0,586.7 610.0,590.0 613.3,595.0 618.3,597.5 623.0,599.2" fill="none" stroke="#000" stroke-width="1" shape-rendering="crispEdges"/>
<polyline points="501.3,257.5 504.2,256.7 506.7,250.0 510.0,247.5 513.3,245.8 516.7,250.0 520.0,243.3 525.0,240.0 530.0,246.7 535.0,240.0 540.8,245.0 546.7,241.7 550.8,235.8 553.3,230.0 555.8,235.8 560.0,240.0 564.2,241.7" fill="none" stroke="#000" stroke-width="2.6" />
<polyline points="576.7,244.2 581.7,249.2 588.3,250.0 595.0,249.2 603.3,252.5 611.7,251.7 623.0,250.0" fill="none" stroke="#000" stroke-width="2.6" />
<polyline points="511.2,489.2 513.3,486.7 515.0,479.2 516.7,476.7 518.3,488.3 520.3,503.3 523.3,495.0 527.5,485.0 530.0,481.7 532.0,490.0 534.2,506.7 535.0,521.7 536.7,511.7 541.7,508.3 547.5,509.2 549.2,515.0 550.8,526.7 553.3,535.0 556.7,530.0 558.3,525.8" fill="none" stroke="#000" stroke-width="2.6" />
<polyline points="568.3,520.8 575.0,518.3 580.0,511.7 585.0,505.8 590.0,504.5 598.3,505.3 605.0,507.0 611.7,510.0 615.0,514.0 619.2,516.7 623.0,523.3" fill="none" stroke="#000" stroke-width="2.6" />
<polyline points="516.5,209.3 517.5,210.3 518.5,209.5" fill="none" stroke="#000" stroke-width="1" />
<text x="566.5" y="246" font-size="11.5" transform="rotate(15 566.5 246)" >5</text>
<text x="560" y="256" font-size="11.5" textLength="17" lengthAdjust="spacing" transform="rotate(30 560 256)" >5.2</text>
<text x="556.5" y="346" font-size="11.5" textLength="17" lengthAdjust="spacing" >5.6</text>
<text x="507.5" y="313" font-size="10.5" textLength="15" lengthAdjust="spacing" transform="rotate(78 507.5 313)" >5.6</text>
<text x="560.5" y="526" font-size="11.5" transform="rotate(20 560.5 526)" >5</text>
<text x="548.5" y="593" font-size="10.5" textLength="16" lengthAdjust="spacing" transform="rotate(-68 548.5 593)" >4.8</text>
<text x="505" y="611.3" font-size="19" textLength="105" lengthAdjust="spacing" fill="#fff" font-family='"Liberation Serif", serif' stroke="#fff" stroke-width="0.5">Salinity−30</text>
<clipPath id="cu"><rect x="664.2" y="208" width="107.0" height="411.20000000000005"/></clipPath>
<g clip-path="url(#cu)">
<rect x="664.2" y="208" width="107.0" height="411.20000000000005" fill="#d8d8d8"/>
<polygon points="664.2,208.0 673.8,208.0 676.3,220.0 676.3,231.7 673.8,241.7 669.7,251.7 664.2,257.5" fill="#e0c8c8" />
<polygon points="664.2,208.0 669.7,208.0 671.3,220.0 670.5,231.7 668.0,240.8 664.2,245.0" fill="#e4b0b0" />
<polygon points="683.8,208.0 686.7,220.0 686.0,233.3 683.0,248.3 681.3,261.7 680.0,273.3 680.5,280.0 686.7,287.5 693.0,283.3 696.3,275.0 698.8,263.3 704.7,255.8 711.3,250.8 717.2,244.2 721.3,238.3 723.8,228.3 725.5,220.0 729.7,210.0 730.5,208.0" fill="#c8c8e0" />
<polygon points="696.3,208.0 706.3,214.2 714.7,208.0" fill="#b4b4e6" />
<polygon points="664.2,350.8 664.2,350.8 666.3,356.7 665.5,365.0 668.0,372.5 670.5,366.7 672.2,358.3 677.2,363.3 680.5,370.0 683.0,376.7 684.7,386.7 684.3,396.7 683.3,408.0 683.0,421.7 682.2,436.7 680.0,453.3 678.0,466.7 673.8,480.0 668.0,490.0 666.3,500.0 664.2,510.0" fill="#c8c8e0" />
<polygon points="771.2,240.8 766.3,248.3 761.3,253.3 751.3,250.8 743.0,249.2 736.3,255.0 731.3,261.7 727.2,270.0 724.7,280.0 721.3,293.3 718.8,306.7 717.2,316.7 716.3,330.0 713.0,340.0 712.7,350.0 714.7,360.0 718.0,370.0 720.0,383.3 720.5,393.3 721.0,401.7 718.8,416.7 716.3,433.3 713.0,450.0 709.7,466.7 707.2,480.0 706.0,493.3 705.0,506.7 703.8,521.7 702.7,538.3 702.2,555.0 701.7,571.7 701.0,588.3 698.8,596.7 694.3,603.3 690.5,595.0 687.2,590.0 683.0,590.8 680.0,600.0 677.2,611.7 676.0,619.2 771.2,619.2" fill="#e0c8c8" />
<polygon points="771.2,280.0 767.2,288.3 761.3,298.3 756.3,291.7 749.7,285.0 743.0,274.2 738.0,283.3 733.8,293.3 731.3,303.3 730.5,316.7 730.5,330.0 729.3,341.7 728.8,350.0 728.8,359.2 731.3,378.3 732.2,390.0 732.8,403.3 731.3,416.7 728.8,433.3 726.3,450.0 725.2,466.7 725.0,483.3 726.0,500.0 727.2,518.3 728.3,538.3 729.3,563.3 729.7,588.3 729.3,605.0 729.3,619.2 771.2,619.2" fill="#e4b0b0" />
<polygon points="749.7,619.2 752.2,601.7 756.3,571.7 759.7,553.3 761.3,549.2 763.3,558.3 767.2,583.3 771.2,600.0 771.2,619.2" fill="#e0c8c8" />
</g>
<polyline points="669.7,208.0 671.3,220.0 670.5,231.7 668.0,240.8 664.2,245.0" fill="none" stroke="#000" stroke-width="1" shape-rendering="crispEdges"/>
<polyline points="673.8,208.0 676.3,220.0 676.3,231.7 673.8,241.7 669.7,251.7 664.2,257.5" fill="none" stroke="#000" stroke-width="1" shape-rendering="crispEdges"/>
<polyline points="771.2,240.8 766.3,248.3 761.3,253.3 751.3,250.8 743.0,249.2 736.3,255.0 731.3,261.7 727.2,270.0 724.7,280.0 721.3,293.3 718.8,306.7 717.2,316.7 716.3,330.0 713.0,340.0 712.7,350.0 714.7,360.0 718.0,370.0 720.0,383.3 720.5,393.3 721.0,401.7" fill="none" stroke="#000" stroke-width="1" shape-rendering="crispEdges"/>
<polyline points="718.8,416.7 716.3,433.3 713.0,450.0 709.7,466.7 707.2,480.0 706.0,493.3 705.0,506.7 703.8,521.7 702.7,538.3 702.2,555.0 701.7,571.7 701.0,588.3 698.8,596.7 694.3,603.3 690.5,595.0 687.2,590.0 683.0,590.8 680.0,600.0 677.2,611.7 676.0,619.2" fill="none" stroke="#000" stroke-width="1" shape-rendering="crispEdges"/>
<polyline points="771.2,280.0 767.2,288.3 761.3,298.3 756.3,291.7 749.7,285.0 743.0,274.2 738.0,283.3 733.8,293.3 731.3,303.3 730.5,316.7 730.5,330.0 729.3,341.7 728.8,350.0 728.8,359.2" fill="none" stroke="#000" stroke-width="1" shape-rendering="crispEdges"/>
<polyline points="731.3,378.3 732.2,390.0 732.8,403.3 731.3,416.7 728.8,433.3 726.3,450.0 725.2,466.7 725.0,483.3 726.0,500.0 727.2,518.3 728.3,538.3 729.3,563.3 729.7,588.3 729.3,605.0 729.3,619.2" fill="none" stroke="#000" stroke-width="1" shape-rendering="crispEdges"/>
<polyline points="749.7,619.2 752.2,601.7 756.3,571.7 759.7,553.3 761.3,549.2 763.3,558.3" fill="none" stroke="#000" stroke-width="1" shape-rendering="crispEdges"/>
<polyline points="767.2,583.3 771.2,600.0" fill="none" stroke="#000" stroke-width="1" shape-rendering="crispEdges"/>
<polyline points="683.8,208.0 686.7,220.0 686.0,233.3 683.0,248.3 681.3,261.7 680.0,273.3 680.5,280.0 686.7,287.5 693.0,283.3 696.3,275.0 698.8,263.3 704.7,255.8 711.3,250.8 717.2,244.2 721.3,238.3 723.8,228.3 725.5,220.0 729.7,210.0 730.5,208.0" fill="none" stroke="#000" stroke-width="1" stroke-dasharray="3.5 2" shape-rendering="crispEdges"/>
<polyline points="664.2,350.8 666.3,356.7 665.5,365.0 668.0,372.5 670.5,366.7 672.2,358.3 677.2,363.3 680.5,370.0 683.0,376.7 684.7,386.7 684.3,396.7 683.3,408.0" fill="none" stroke="#000" stroke-width="1" stroke-dasharray="3.5 2" shape-rendering="crispEdges"/>
<polyline points="683.0,421.7 682.2,436.7 680.0,453.3 678.0,466.7 673.8,480.0 668.0,490.0 666.3,500.0 664.2,510.0" fill="none" stroke="#000" stroke-width="1" stroke-dasharray="3.5 2" shape-rendering="crispEdges"/>
<polyline points="648.0,249.5 664.2,245.8 684.7,241.7 701.3,241.3 718.0,244.2 736.3,248.3 751.3,250.8 771.0,252.5" fill="none" stroke="#fff" stroke-width="1.2" shape-rendering="auto"/>
<polyline points="648.0,282.5 664.2,280.8 684.7,280.0 701.3,280.8 718.0,282.5 736.3,284.2 751.3,285.0 771.0,285.3" fill="none" stroke="#fff" stroke-width="1.2" shape-rendering="auto"/>
<polyline points="648.0,327.5 664.2,326.3 676.3,325.0 686.3,325.8 704.7,327.0 729.7,327.0 771.0,326.7" fill="none" stroke="#fff" stroke-width="1.2" shape-rendering="auto"/>
<polyline points="648.0,419.7 664.2,415.5 676.3,414.7 693.0,415.3 709.7,416.7 729.7,419.7 751.3,422.5 771.0,424.7" fill="none" stroke="#fff" stroke-width="1.2" shape-rendering="auto"/>
<polyline points="648.0,512.0 664.2,515.5 668.5,519.5 664.5,523.8 676.3,527.5 693.0,530.0 709.7,530.3 726.3,529.7 743.0,528.0 759.7,525.8 771.0,524.2" fill="none" stroke="#fff" stroke-width="1.2" shape-rendering="auto"/>
<text x="685.5" y="260" font-size="11.5" transform="rotate(178 685.5 260)" >5</text>
<text x="724.5" y="405.5" font-size="11.5" transform="rotate(178 724.5 405.5)" >5</text>
<text x="687" y="414" font-size="11" transform="rotate(178 687 414)" >5</text>
<text x="726" y="362" font-size="11.5" textLength="13" lengthAdjust="spacing" transform="rotate(96 726 362)" >10</text>
<text x="761" y="566" font-size="11.5" textLength="13" lengthAdjust="spacing" transform="rotate(68 761 566)" >10</text>
<text x="653" y="611" font-size="19" fill="#fff" font-family='"Liberation Serif", serif' stroke="#fff" stroke-width="0.5" textLength="108" lengthAdjust="spacing">Crosstrack u<tspan font-size="13" dy="4">g</tspan></text>
<rect x="57.00" y="107.50" width="1" height="252.00" fill="#000"/>
<rect x="262.00" y="107.50" width="1" height="252.00" fill="#000"/>
<rect x="51.00" y="107.00" width="219.00" height="1" fill="#000"/>
<rect x="51.00" y="359.00" width="219.00" height="1" fill="#000"/>
<rect x="51.00" y="107.00" width="6.50" height="1" fill="#000"/>
<rect x="262.50" y="107.00" width="7.50" height="1" fill="#000"/>
<text x="43" y="112.5" font-size="14.5" text-anchor="end" textLength="32.5" lengthAdjust="spacing" stroke="#fff" stroke-width="0.17" >10°S</text>
<rect x="54.00" y="123.80" width="3.50" height="1" fill="#000"/>
<rect x="262.50" y="123.80" width="4.50" height="1" fill="#000"/>
<rect x="54.00" y="140.60" width="3.50" height="1" fill="#000"/>
<rect x="262.50" y="140.60" width="4.50" height="1" fill="#000"/>
<rect x="54.00" y="157.40" width="3.50" height="1" fill="#000"/>
<rect x="262.50" y="157.40" width="4.50" height="1" fill="#000"/>
<rect x="54.00" y="174.20" width="3.50" height="1" fill="#000"/>
<rect x="262.50" y="174.20" width="4.50" height="1" fill="#000"/>
<rect x="51.00" y="191.00" width="6.50" height="1" fill="#000"/>
<rect x="262.50" y="191.00" width="7.50" height="1" fill="#000"/>
<text x="43" y="196.5" font-size="14.5" text-anchor="end" textLength="32.5" lengthAdjust="spacing" stroke="#fff" stroke-width="0.17" >11°S</text>
<rect x="54.00" y="207.80" width="3.50" height="1" fill="#000"/>
<rect x="262.50" y="207.80" width="4.50" height="1" fill="#000"/>
<rect x="54.00" y="224.60" width="3.50" height="1" fill="#000"/>
<rect x="262.50" y="224.60" width="4.50" height="1" fill="#000"/>
<rect x="54.00" y="241.40" width="3.50" height="1" fill="#000"/>
<rect x="262.50" y="241.40" width="4.50" height="1" fill="#000"/>
<rect x="54.00" y="258.20" width="3.50" height="1" fill="#000"/>
<rect x="262.50" y="258.20" width="4.50" height="1" fill="#000"/>
<rect x="51.00" y="275.00" width="6.50" height="1" fill="#000"/>
<rect x="262.50" y="275.00" width="7.50" height="1" fill="#000"/>
<text x="43" y="280.5" font-size="14.5" text-anchor="end" textLength="32.5" lengthAdjust="spacing" stroke="#fff" stroke-width="0.17" >12°S</text>
<rect x="54.00" y="291.80" width="3.50" height="1" fill="#000"/>
<rect x="262.50" y="291.80" width="4.50" height="1" fill="#000"/>
<rect x="54.00" y="308.60" width="3.50" height="1" fill="#000"/>
<rect x="262.50" y="308.60" width="4.50" height="1" fill="#000"/>
<rect x="54.00" y="325.40" width="3.50" height="1" fill="#000"/>
<rect x="262.50" y="325.40" width="4.50" height="1" fill="#000"/>
<rect x="54.00" y="342.20" width="3.50" height="1" fill="#000"/>
<rect x="262.50" y="342.20" width="4.50" height="1" fill="#000"/>
<rect x="51.00" y="359.00" width="6.50" height="1" fill="#000"/>
<rect x="262.50" y="359.00" width="7.50" height="1" fill="#000"/>
<text x="43" y="364.5" font-size="14.5" text-anchor="end" textLength="32.5" lengthAdjust="spacing" stroke="#fff" stroke-width="0.17" >13°S</text>
<rect x="57.00" y="101.50" width="1" height="6.00" fill="#000"/>
<rect x="57.00" y="359.50" width="1" height="6.00" fill="#000"/>
<rect x="73.40" y="104.50" width="1" height="3.00" fill="#000"/>
<rect x="73.40" y="359.50" width="1" height="3.00" fill="#000"/>
<rect x="89.80" y="104.50" width="1" height="3.00" fill="#000"/>
<rect x="89.80" y="359.50" width="1" height="3.00" fill="#000"/>
<rect x="106.20" y="104.50" width="1" height="3.00" fill="#000"/>
<rect x="106.20" y="359.50" width="1" height="3.00" fill="#000"/>
<rect x="122.60" y="104.50" width="1" height="3.00" fill="#000"/>
<rect x="122.60" y="359.50" width="1" height="3.00" fill="#000"/>
<rect x="139.00" y="101.50" width="1" height="6.00" fill="#000"/>
<rect x="139.00" y="359.50" width="1" height="6.00" fill="#000"/>
<rect x="155.40" y="104.50" width="1" height="3.00" fill="#000"/>
<rect x="155.40" y="359.50" width="1" height="3.00" fill="#000"/>
<rect x="171.80" y="104.50" width="1" height="3.00" fill="#000"/>
<rect x="171.80" y="359.50" width="1" height="3.00" fill="#000"/>
<rect x="188.20" y="104.50" width="1" height="3.00" fill="#000"/>
<rect x="188.20" y="359.50" width="1" height="3.00" fill="#000"/>
<rect x="204.60" y="104.50" width="1" height="3.00" fill="#000"/>
<rect x="204.60" y="359.50" width="1" height="3.00" fill="#000"/>
<rect x="221.00" y="101.50" width="1" height="6.00" fill="#000"/>
<rect x="221.00" y="359.50" width="1" height="6.00" fill="#000"/>
<rect x="237.40" y="104.50" width="1" height="3.00" fill="#000"/>
<rect x="237.40" y="359.50" width="1" height="3.00" fill="#000"/>
<rect x="253.80" y="104.50" width="1" height="3.00" fill="#000"/>
<rect x="253.80" y="359.50" width="1" height="3.00" fill="#000"/>
<text x="58.0" y="382.5" font-size="14.5" text-anchor="middle" textLength="36" lengthAdjust="spacing" stroke="#fff" stroke-width="0.17" >153°E</text>
<text x="140.0" y="382.5" font-size="14.5" text-anchor="middle" textLength="36" lengthAdjust="spacing" stroke="#fff" stroke-width="0.17" >154°E</text>
<text x="222.0" y="382.5" font-size="14.5" text-anchor="middle" textLength="36" lengthAdjust="spacing" stroke="#fff" stroke-width="0.17" >155°E</text>
<rect x="57.00" y="389.50" width="1" height="251.00" fill="#000"/>
<rect x="262.00" y="389.50" width="1" height="251.00" fill="#000"/>
<rect x="51.00" y="389.00" width="219.00" height="1" fill="#000"/>
<rect x="51.00" y="640.00" width="219.00" height="1" fill="#000"/>
<rect x="51.00" y="389.00" width="6.50" height="1" fill="#000"/>
<rect x="262.50" y="389.00" width="7.50" height="1" fill="#000"/>
<text x="43" y="394.5" font-size="14.5" text-anchor="end" textLength="32.5" lengthAdjust="spacing" stroke="#fff" stroke-width="0.17" >10°S</text>
<rect x="54.00" y="405.73" width="3.50" height="1" fill="#000"/>
<rect x="262.50" y="405.73" width="4.50" height="1" fill="#000"/>
<rect x="54.00" y="422.47" width="3.50" height="1" fill="#000"/>
<rect x="262.50" y="422.47" width="4.50" height="1" fill="#000"/>
<rect x="54.00" y="439.20" width="3.50" height="1" fill="#000"/>
<rect x="262.50" y="439.20" width="4.50" height="1" fill="#000"/>
<rect x="54.00" y="455.93" width="3.50" height="1" fill="#000"/>
<rect x="262.50" y="455.93" width="4.50" height="1" fill="#000"/>
<rect x="51.00" y="472.67" width="6.50" height="1" fill="#000"/>
<rect x="262.50" y="472.67" width="7.50" height="1" fill="#000"/>
<text x="43" y="478.1666666666667" font-size="14.5" text-anchor="end" textLength="32.5" lengthAdjust="spacing" stroke="#fff" stroke-width="0.17" >11°S</text>
<rect x="54.00" y="489.40" width="3.50" height="1" fill="#000"/>
<rect x="262.50" y="489.40" width="4.50" height="1" fill="#000"/>
<rect x="54.00" y="506.13" width="3.50" height="1" fill="#000"/>
<rect x="262.50" y="506.13" width="4.50" height="1" fill="#000"/>
<rect x="54.00" y="522.87" width="3.50" height="1" fill="#000"/>
<rect x="262.50" y="522.87" width="4.50" height="1" fill="#000"/>
<rect x="54.00" y="539.60" width="3.50" height="1" fill="#000"/>
<rect x="262.50" y="539.60" width="4.50" height="1" fill="#000"/>
<rect x="51.00" y="556.33" width="6.50" height="1" fill="#000"/>
<rect x="262.50" y="556.33" width="7.50" height="1" fill="#000"/>
<text x="43" y="561.8333333333334" font-size="14.5" text-anchor="end" textLength="32.5" lengthAdjust="spacing" stroke="#fff" stroke-width="0.17" >12°S</text>
<rect x="54.00" y="573.07" width="3.50" height="1" fill="#000"/>
<rect x="262.50" y="573.07" width="4.50" height="1" fill="#000"/>
<rect x="54.00" y="589.80" width="3.50" height="1" fill="#000"/>
<rect x="262.50" y="589.80" width="4.50" height="1" fill="#000"/>
<rect x="54.00" y="606.53" width="3.50" height="1" fill="#000"/>
<rect x="262.50" y="606.53" width="4.50" height="1" fill="#000"/>
<rect x="54.00" y="623.27" width="3.50" height="1" fill="#000"/>
<rect x="262.50" y="623.27" width="4.50" height="1" fill="#000"/>
<rect x="51.00" y="640.00" width="6.50" height="1" fill="#000"/>
<rect x="262.50" y="640.00" width="7.50" height="1" fill="#000"/>
<text x="43" y="645.5" font-size="14.5" text-anchor="end" textLength="32.5" lengthAdjust="spacing" stroke="#fff" stroke-width="0.17" >13°S</text>
<rect x="57.00" y="383.50" width="1" height="6.00" fill="#000"/>
<rect x="57.00" y="640.50" width="1" height="6.00" fill="#000"/>
<rect x="73.40" y="386.50" width="1" height="3.00" fill="#000"/>
<rect x="73.40" y="640.50" width="1" height="3.00" fill="#000"/>
<rect x="89.80" y="386.50" width="1" height="3.00" fill="#000"/>
<rect x="89.80" y="640.50" width="1" height="3.00" fill="#000"/>
<rect x="106.20" y="386.50" width="1" height="3.00" fill="#000"/>
<rect x="106.20" y="640.50" width="1" height="3.00" fill="#000"/>
<rect x="122.60" y="386.50" width="1" height="3.00" fill="#000"/>
<rect x="122.60" y="640.50" width="1" height="3.00" fill="#000"/>
<rect x="139.00" y="383.50" width="1" height="6.00" fill="#000"/>
<rect x="139.00" y="640.50" width="1" height="6.00" fill="#000"/>
<rect x="155.40" y="386.50" width="1" height="3.00" fill="#000"/>
<rect x="155.40" y="640.50" width="1" height="3.00" fill="#000"/>
<rect x="171.80" y="386.50" width="1" height="3.00" fill="#000"/>
<rect x="171.80" y="640.50" width="1" height="3.00" fill="#000"/>
<rect x="188.20" y="386.50" width="1" height="3.00" fill="#000"/>
<rect x="188.20" y="640.50" width="1" height="3.00" fill="#000"/>
<rect x="204.60" y="386.50" width="1" height="3.00" fill="#000"/>
<rect x="204.60" y="640.50" width="1" height="3.00" fill="#000"/>
<rect x="221.00" y="383.50" width="1" height="6.00" fill="#000"/>
<rect x="221.00" y="640.50" width="1" height="6.00" fill="#000"/>
<rect x="237.40" y="386.50" width="1" height="3.00" fill="#000"/>
<rect x="237.40" y="640.50" width="1" height="3.00" fill="#000"/>
<rect x="253.80" y="386.50" width="1" height="3.00" fill="#000"/>
<rect x="253.80" y="640.50" width="1" height="3.00" fill="#000"/>
<text x="58.0" y="663.5" font-size="14.5" text-anchor="middle" textLength="36" lengthAdjust="spacing" stroke="#fff" stroke-width="0.17" >153°E</text>
<text x="140.0" y="663.5" font-size="14.5" text-anchor="middle" textLength="36" lengthAdjust="spacing" stroke="#fff" stroke-width="0.17" >154°E</text>
<text x="222.0" y="663.5" font-size="14.5" text-anchor="middle" textLength="36" lengthAdjust="spacing" stroke="#fff" stroke-width="0.17" >155°E</text>
<rect x="353.00" y="35.50" width="1" height="113.00" fill="#000"/>
<rect x="476.00" y="35.50" width="1" height="113.00" fill="#000"/>
<rect x="358.00" y="30.25" width="1" height="5.25" fill="#000"/>
<rect x="364.20" y="30.25" width="1" height="5.25" fill="#000"/>
<rect x="370.40" y="30.25" width="1" height="5.25" fill="#000"/>
<rect x="376.60" y="30.25" width="1" height="5.25" fill="#000"/>
<rect x="382.80" y="25.00" width="1" height="10.50" fill="#000"/>
<rect x="389.00" y="30.25" width="1" height="5.25" fill="#000"/>
<rect x="395.20" y="30.25" width="1" height="5.25" fill="#000"/>
<rect x="401.40" y="30.25" width="1" height="5.25" fill="#000"/>
<rect x="407.60" y="30.25" width="1" height="5.25" fill="#000"/>
<rect x="413.80" y="25.00" width="1" height="10.50" fill="#000"/>
<rect x="420.00" y="30.25" width="1" height="5.25" fill="#000"/>
<rect x="426.20" y="30.25" width="1" height="5.25" fill="#000"/>
<rect x="432.40" y="30.25" width="1" height="5.25" fill="#000"/>
<rect x="438.60" y="30.25" width="1" height="5.25" fill="#000"/>
<rect x="444.80" y="25.00" width="1" height="10.50" fill="#000"/>
<rect x="451.00" y="30.25" width="1" height="5.25" fill="#000"/>
<rect x="457.20" y="30.25" width="1" height="5.25" fill="#000"/>
<rect x="463.40" y="30.25" width="1" height="5.25" fill="#000"/>
<rect x="469.60" y="30.25" width="1" height="5.25" fill="#000"/>
<rect x="358.00" y="148.50" width="1" height="5.50" fill="#000"/>
<rect x="364.20" y="148.50" width="1" height="5.50" fill="#000"/>
<rect x="370.40" y="148.50" width="1" height="5.50" fill="#000"/>
<rect x="376.60" y="148.50" width="1" height="5.50" fill="#000"/>
<rect x="382.80" y="148.50" width="1" height="9.00" fill="#000"/>
<rect x="389.00" y="148.50" width="1" height="5.50" fill="#000"/>
<rect x="395.20" y="148.50" width="1" height="5.50" fill="#000"/>
<rect x="401.40" y="148.50" width="1" height="5.50" fill="#000"/>
<rect x="407.60" y="148.50" width="1" height="5.50" fill="#000"/>
<rect x="413.80" y="148.50" width="1" height="9.00" fill="#000"/>
<rect x="420.00" y="148.50" width="1" height="5.50" fill="#000"/>
<rect x="426.20" y="148.50" width="1" height="5.50" fill="#000"/>
<rect x="432.40" y="148.50" width="1" height="5.50" fill="#000"/>
<rect x="438.60" y="148.50" width="1" height="5.50" fill="#000"/>
<rect x="444.80" y="148.50" width="1" height="9.00" fill="#000"/>
<rect x="451.00" y="148.50" width="1" height="5.50" fill="#000"/>
<rect x="457.20" y="148.50" width="1" height="5.50" fill="#000"/>
<rect x="463.40" y="148.50" width="1" height="5.50" fill="#000"/>
<rect x="469.60" y="148.50" width="1" height="5.50" fill="#000"/>
<text x="383.6" y="172" font-size="12" text-anchor="middle" textLength="14.5" lengthAdjust="spacing" >25</text>
<text x="414.6" y="172" font-size="12" text-anchor="middle" textLength="14.5" lengthAdjust="spacing" >50</text>
<text x="445.6" y="172" font-size="12" text-anchor="middle" textLength="14.5" lengthAdjust="spacing" >75</text>
<rect x="500.00" y="35.50" width="1" height="113.00" fill="#000"/>
<rect x="623.00" y="35.50" width="1" height="113.00" fill="#000"/>
<rect x="505.70" y="30.25" width="1" height="5.25" fill="#000"/>
<rect x="511.90" y="30.25" width="1" height="5.25" fill="#000"/>
<rect x="518.10" y="30.25" width="1" height="5.25" fill="#000"/>
<rect x="524.30" y="30.25" width="1" height="5.25" fill="#000"/>
<rect x="530.50" y="25.00" width="1" height="10.50" fill="#000"/>
<rect x="536.70" y="30.25" width="1" height="5.25" fill="#000"/>
<rect x="542.90" y="30.25" width="1" height="5.25" fill="#000"/>
<rect x="549.10" y="30.25" width="1" height="5.25" fill="#000"/>
<rect x="555.30" y="30.25" width="1" height="5.25" fill="#000"/>
<rect x="561.50" y="25.00" width="1" height="10.50" fill="#000"/>
<rect x="567.70" y="30.25" width="1" height="5.25" fill="#000"/>
<rect x="573.90" y="30.25" width="1" height="5.25" fill="#000"/>
<rect x="580.10" y="30.25" width="1" height="5.25" fill="#000"/>
<rect x="586.30" y="30.25" width="1" height="5.25" fill="#000"/>
<rect x="592.50" y="25.00" width="1" height="10.50" fill="#000"/>
<rect x="598.70" y="30.25" width="1" height="5.25" fill="#000"/>
<rect x="604.90" y="30.25" width="1" height="5.25" fill="#000"/>
<rect x="611.10" y="30.25" width="1" height="5.25" fill="#000"/>
<rect x="617.30" y="30.25" width="1" height="5.25" fill="#000"/>
<rect x="505.70" y="148.50" width="1" height="5.50" fill="#000"/>
<rect x="511.90" y="148.50" width="1" height="5.50" fill="#000"/>
<rect x="518.10" y="148.50" width="1" height="5.50" fill="#000"/>
<rect x="524.30" y="148.50" width="1" height="5.50" fill="#000"/>
<rect x="530.50" y="148.50" width="1" height="9.00" fill="#000"/>
<rect x="536.70" y="148.50" width="1" height="5.50" fill="#000"/>
<rect x="542.90" y="148.50" width="1" height="5.50" fill="#000"/>
<rect x="549.10" y="148.50" width="1" height="5.50" fill="#000"/>
<rect x="555.30" y="148.50" width="1" height="5.50" fill="#000"/>
<rect x="561.50" y="148.50" width="1" height="9.00" fill="#000"/>
<rect x="567.70" y="148.50" width="1" height="5.50" fill="#000"/>
<rect x="573.90" y="148.50" width="1" height="5.50" fill="#000"/>
<rect x="580.10" y="148.50" width="1" height="5.50" fill="#000"/>
<rect x="586.30" y="148.50" width="1" height="5.50" fill="#000"/>
<rect x="592.50" y="148.50" width="1" height="9.00" fill="#000"/>
<rect x="598.70" y="148.50" width="1" height="5.50" fill="#000"/>
<rect x="604.90" y="148.50" width="1" height="5.50" fill="#000"/>
<rect x="611.10" y="148.50" width="1" height="5.50" fill="#000"/>
<rect x="617.30" y="148.50" width="1" height="5.50" fill="#000"/>
<text x="531.3" y="172" font-size="12" text-anchor="middle" textLength="14.5" lengthAdjust="spacing" >25</text>
<text x="562.3" y="172" font-size="12" text-anchor="middle" textLength="14.5" lengthAdjust="spacing" >50</text>
<text x="593.3" y="172" font-size="12" text-anchor="middle" textLength="14.5" lengthAdjust="spacing" >75</text>
<rect x="648.00" y="35.50" width="1" height="113.00" fill="#000"/>
<rect x="771.00" y="35.50" width="1" height="113.00" fill="#000"/>
<rect x="653.00" y="30.25" width="1" height="5.25" fill="#000"/>
<rect x="659.20" y="30.25" width="1" height="5.25" fill="#000"/>
<rect x="665.40" y="30.25" width="1" height="5.25" fill="#000"/>
<rect x="671.60" y="30.25" width="1" height="5.25" fill="#000"/>
<rect x="677.80" y="25.00" width="1" height="10.50" fill="#000"/>
<rect x="684.00" y="30.25" width="1" height="5.25" fill="#000"/>
<rect x="690.20" y="30.25" width="1" height="5.25" fill="#000"/>
<rect x="696.40" y="30.25" width="1" height="5.25" fill="#000"/>
<rect x="702.60" y="30.25" width="1" height="5.25" fill="#000"/>
<rect x="708.80" y="25.00" width="1" height="10.50" fill="#000"/>
<rect x="715.00" y="30.25" width="1" height="5.25" fill="#000"/>
<rect x="721.20" y="30.25" width="1" height="5.25" fill="#000"/>
<rect x="727.40" y="30.25" width="1" height="5.25" fill="#000"/>
<rect x="733.60" y="30.25" width="1" height="5.25" fill="#000"/>
<rect x="739.80" y="25.00" width="1" height="10.50" fill="#000"/>
<rect x="746.00" y="30.25" width="1" height="5.25" fill="#000"/>
<rect x="752.20" y="30.25" width="1" height="5.25" fill="#000"/>
<rect x="758.40" y="30.25" width="1" height="5.25" fill="#000"/>
<rect x="764.60" y="30.25" width="1" height="5.25" fill="#000"/>
<rect x="653.00" y="148.50" width="1" height="5.50" fill="#000"/>
<rect x="659.20" y="148.50" width="1" height="5.50" fill="#000"/>
<rect x="665.40" y="148.50" width="1" height="5.50" fill="#000"/>
<rect x="671.60" y="148.50" width="1" height="5.50" fill="#000"/>
<rect x="677.80" y="148.50" width="1" height="9.00" fill="#000"/>
<rect x="684.00" y="148.50" width="1" height="5.50" fill="#000"/>
<rect x="690.20" y="148.50" width="1" height="5.50" fill="#000"/>
<rect x="696.40" y="148.50" width="1" height="5.50" fill="#000"/>
<rect x="702.60" y="148.50" width="1" height="5.50" fill="#000"/>
<rect x="708.80" y="148.50" width="1" height="9.00" fill="#000"/>
<rect x="715.00" y="148.50" width="1" height="5.50" fill="#000"/>
<rect x="721.20" y="148.50" width="1" height="5.50" fill="#000"/>
<rect x="727.40" y="148.50" width="1" height="5.50" fill="#000"/>
<rect x="733.60" y="148.50" width="1" height="5.50" fill="#000"/>
<rect x="739.80" y="148.50" width="1" height="9.00" fill="#000"/>
<rect x="746.00" y="148.50" width="1" height="5.50" fill="#000"/>
<rect x="752.20" y="148.50" width="1" height="5.50" fill="#000"/>
<rect x="758.40" y="148.50" width="1" height="5.50" fill="#000"/>
<rect x="764.60" y="148.50" width="1" height="5.50" fill="#000"/>
<text x="678.5999999999999" y="172" font-size="12" text-anchor="middle" textLength="14.5" lengthAdjust="spacing" >25</text>
<text x="709.5999999999999" y="172" font-size="12" text-anchor="middle" textLength="14.5" lengthAdjust="spacing" >50</text>
<text x="740.5999999999999" y="172" font-size="12" text-anchor="middle" textLength="14.5" lengthAdjust="spacing" >75</text>
<rect x="343.00" y="35.00" width="10.50" height="1" fill="#000"/>
<text x="336" y="39.9" font-size="12.5" text-anchor="end" textLength="25" lengthAdjust="spacing" >27.5</text>
<rect x="348.00" y="63.25" width="5.50" height="1" fill="#000"/>
<rect x="343.00" y="91.50" width="10.50" height="1" fill="#000"/>
<text x="336" y="96.4" font-size="12.5" text-anchor="end" textLength="25" lengthAdjust="spacing" >27.0</text>
<rect x="348.00" y="119.75" width="5.50" height="1" fill="#000"/>
<rect x="343.00" y="148.00" width="10.50" height="1" fill="#000"/>
<text x="336" y="152.9" font-size="12.5" text-anchor="end" textLength="25" lengthAdjust="spacing" >26.5</text>
<rect x="476.50" y="35.00" width="10.50" height="1" fill="#000"/>
<rect x="476.50" y="63.25" width="5.50" height="1" fill="#000"/>
<rect x="476.50" y="91.50" width="10.50" height="1" fill="#000"/>
<rect x="476.50" y="119.75" width="5.50" height="1" fill="#000"/>
<rect x="476.50" y="148.00" width="10.50" height="1" fill="#000"/>
<rect x="495.00" y="61.00" width="5.50" height="1" fill="#000"/>
<rect x="623.50" y="61.00" width="5.50" height="1" fill="#000"/>
<rect x="490.00" y="90.00" width="10.50" height="1" fill="#000"/>
<rect x="623.50" y="90.00" width="10.50" height="1" fill="#000"/>
<rect x="495.00" y="119.00" width="5.50" height="1" fill="#000"/>
<rect x="623.50" y="119.00" width="5.50" height="1" fill="#000"/>
<rect x="353.50" y="35.00" width="123.00" height="1" fill="#000"/>
<rect x="353.50" y="148.00" width="123.00" height="1" fill="#000"/>
<rect x="500.50" y="35.00" width="123.00" height="1" fill="#000"/>
<rect x="500.50" y="148.00" width="123.00" height="1" fill="#000"/>
<text x="484" y="94.4" font-size="12.5" text-anchor="end" textLength="25" lengthAdjust="spacing" >34.6</text>
<rect x="638.00" y="35.00" width="10.50" height="1" fill="#000"/>
<rect x="771.50" y="35.00" width="10.00" height="1" fill="#000"/>
<text x="812" y="39.9" font-size="12.5" text-anchor="end" textLength="14" lengthAdjust="spacing" >40</text>
<rect x="643.00" y="49.12" width="5.50" height="1" fill="#000"/>
<rect x="771.50" y="49.12" width="5.00" height="1" fill="#000"/>
<rect x="638.00" y="63.25" width="10.50" height="1" fill="#000"/>
<rect x="771.50" y="63.25" width="10.00" height="1" fill="#000"/>
<text x="812" y="68.15" font-size="12.5" text-anchor="end" textLength="14" lengthAdjust="spacing" >20</text>
<rect x="643.00" y="77.38" width="5.50" height="1" fill="#000"/>
<rect x="771.50" y="77.38" width="5.00" height="1" fill="#000"/>
<rect x="638.00" y="91.50" width="10.50" height="1" fill="#000"/>
<rect x="771.50" y="91.50" width="10.00" height="1" fill="#000"/>
<text x="812" y="96.4" font-size="12.5" text-anchor="end" textLength="6.5" lengthAdjust="spacing" >0</text>
<rect x="643.00" y="105.62" width="5.50" height="1" fill="#000"/>
<rect x="771.50" y="105.62" width="5.00" height="1" fill="#000"/>
<rect x="638.00" y="119.75" width="10.50" height="1" fill="#000"/>
<rect x="771.50" y="119.75" width="10.00" height="1" fill="#000"/>
<text x="812" y="124.65" font-size="12.5" text-anchor="end" textLength="24" lengthAdjust="spacing" >−20</text>
<rect x="643.00" y="133.88" width="5.50" height="1" fill="#000"/>
<rect x="771.50" y="133.88" width="5.00" height="1" fill="#000"/>
<rect x="638.00" y="148.00" width="10.50" height="1" fill="#000"/>
<rect x="771.50" y="148.00" width="10.00" height="1" fill="#000"/>
<text x="812" y="152.9" font-size="12.5" text-anchor="end" textLength="24" lengthAdjust="spacing" >−40</text>
<rect x="648.50" y="35.00" width="123.00" height="1" fill="#000"/>
<rect x="648.50" y="148.00" width="123.00" height="1" fill="#000"/>
<rect x="638.00" y="91.50" width="143.50" height="1" fill="#000"/>
<text x="384.5" y="141.3" font-size="15.5" textLength="60.5" lengthAdjust="spacing" stroke="#fff" stroke-width="0.23" >SST (°C)</text>
<text x="526.5" y="141.3" font-size="15.5" textLength="71" lengthAdjust="spacing" stroke="#fff" stroke-width="0.23" >SSS (psu)</text>
<text x="654.8" y="125" font-size="15.5" textLength="111" lengthAdjust="spacing" stroke="#fff" stroke-width="0.2">u<tspan font-size="11" dy="4">g</tspan><tspan dy="-4">(ave) (cm/s)</tspan></text>
<text x="650.5" y="143.8" font-size="12" textLength="118.5" lengthAdjust="spacing" >Positive = Eq−ward</text>
<rect x="353.00" y="204.50" width="1" height="415.00" fill="#000"/>
<rect x="476.00" y="204.50" width="1" height="415.00" fill="#000"/>
<rect x="353.50" y="204.00" width="123.00" height="1" fill="#000"/>
<rect x="353.50" y="619.00" width="123.00" height="1" fill="#000"/>
<rect x="358.00" y="199.25" width="1" height="5.25" fill="#000"/>
<rect x="364.20" y="199.25" width="1" height="5.25" fill="#000"/>
<rect x="370.40" y="199.25" width="1" height="5.25" fill="#000"/>
<rect x="376.60" y="199.25" width="1" height="5.25" fill="#000"/>
<rect x="382.80" y="194.00" width="1" height="10.50" fill="#000"/>
<rect x="389.00" y="199.25" width="1" height="5.25" fill="#000"/>
<rect x="395.20" y="199.25" width="1" height="5.25" fill="#000"/>
<rect x="401.40" y="199.25" width="1" height="5.25" fill="#000"/>
<rect x="407.60" y="199.25" width="1" height="5.25" fill="#000"/>
<rect x="413.80" y="194.00" width="1" height="10.50" fill="#000"/>
<rect x="420.00" y="199.25" width="1" height="5.25" fill="#000"/>
<rect x="426.20" y="199.25" width="1" height="5.25" fill="#000"/>
<rect x="432.40" y="199.25" width="1" height="5.25" fill="#000"/>
<rect x="438.60" y="199.25" width="1" height="5.25" fill="#000"/>
<rect x="444.80" y="194.00" width="1" height="10.50" fill="#000"/>
<rect x="451.00" y="199.25" width="1" height="5.25" fill="#000"/>
<rect x="457.20" y="199.25" width="1" height="5.25" fill="#000"/>
<rect x="463.40" y="199.25" width="1" height="5.25" fill="#000"/>
<rect x="469.60" y="199.25" width="1" height="5.25" fill="#000"/>
<rect x="358.00" y="619.50" width="1" height="5.50" fill="#000"/>
<rect x="364.20" y="619.50" width="1" height="5.50" fill="#000"/>
<rect x="370.40" y="619.50" width="1" height="5.50" fill="#000"/>
<rect x="376.60" y="619.50" width="1" height="5.50" fill="#000"/>
<rect x="382.80" y="619.50" width="1" height="9.00" fill="#000"/>
<rect x="389.00" y="619.50" width="1" height="5.50" fill="#000"/>
<rect x="395.20" y="619.50" width="1" height="5.50" fill="#000"/>
<rect x="401.40" y="619.50" width="1" height="5.50" fill="#000"/>
<rect x="407.60" y="619.50" width="1" height="5.50" fill="#000"/>
<rect x="413.80" y="619.50" width="1" height="9.00" fill="#000"/>
<rect x="420.00" y="619.50" width="1" height="5.50" fill="#000"/>
<rect x="426.20" y="619.50" width="1" height="5.50" fill="#000"/>
<rect x="432.40" y="619.50" width="1" height="5.50" fill="#000"/>
<rect x="438.60" y="619.50" width="1" height="5.50" fill="#000"/>
<rect x="444.80" y="619.50" width="1" height="9.00" fill="#000"/>
<rect x="451.00" y="619.50" width="1" height="5.50" fill="#000"/>
<rect x="457.20" y="619.50" width="1" height="5.50" fill="#000"/>
<rect x="463.40" y="619.50" width="1" height="5.50" fill="#000"/>
<rect x="469.60" y="619.50" width="1" height="5.50" fill="#000"/>
<text x="383.6" y="642.5" font-size="12" text-anchor="middle" textLength="14.5" lengthAdjust="spacing" >25</text>
<text x="414.6" y="642.5" font-size="12" text-anchor="middle" textLength="14.5" lengthAdjust="spacing" >50</text>
<text x="445.6" y="642.5" font-size="12" text-anchor="middle" textLength="14.5" lengthAdjust="spacing" >75</text>
<text x="347.3" y="191.6" font-size="13" textLength="39.5" lengthAdjust="spacing" stroke="#fff" stroke-width="0.08" >←PNG</text>
<text x="409.1" y="191.6" font-size="13" textLength="73" lengthAdjust="spacing" stroke="#fff" stroke-width="0.08" >Offshore→</text>
<rect x="500.00" y="204.50" width="1" height="415.00" fill="#000"/>
<rect x="623.00" y="204.50" width="1" height="415.00" fill="#000"/>
<rect x="500.50" y="204.00" width="123.00" height="1" fill="#000"/>
<rect x="500.50" y="619.00" width="123.00" height="1" fill="#000"/>
<rect x="505.70" y="199.25" width="1" height="5.25" fill="#000"/>
<rect x="511.90" y="199.25" width="1" height="5.25" fill="#000"/>
<rect x="518.10" y="199.25" width="1" height="5.25" fill="#000"/>
<rect x="524.30" y="199.25" width="1" height="5.25" fill="#000"/>
<rect x="530.50" y="194.00" width="1" height="10.50" fill="#000"/>
<rect x="536.70" y="199.25" width="1" height="5.25" fill="#000"/>
<rect x="542.90" y="199.25" width="1" height="5.25" fill="#000"/>
<rect x="549.10" y="199.25" width="1" height="5.25" fill="#000"/>
<rect x="555.30" y="199.25" width="1" height="5.25" fill="#000"/>
<rect x="561.50" y="194.00" width="1" height="10.50" fill="#000"/>
<rect x="567.70" y="199.25" width="1" height="5.25" fill="#000"/>
<rect x="573.90" y="199.25" width="1" height="5.25" fill="#000"/>
<rect x="580.10" y="199.25" width="1" height="5.25" fill="#000"/>
<rect x="586.30" y="199.25" width="1" height="5.25" fill="#000"/>
<rect x="592.50" y="194.00" width="1" height="10.50" fill="#000"/>
<rect x="598.70" y="199.25" width="1" height="5.25" fill="#000"/>
<rect x="604.90" y="199.25" width="1" height="5.25" fill="#000"/>
<rect x="611.10" y="199.25" width="1" height="5.25" fill="#000"/>
<rect x="617.30" y="199.25" width="1" height="5.25" fill="#000"/>
<rect x="505.70" y="619.50" width="1" height="5.50" fill="#000"/>
<rect x="511.90" y="619.50" width="1" height="5.50" fill="#000"/>
<rect x="518.10" y="619.50" width="1" height="5.50" fill="#000"/>
<rect x="524.30" y="619.50" width="1" height="5.50" fill="#000"/>
<rect x="530.50" y="619.50" width="1" height="9.00" fill="#000"/>
<rect x="536.70" y="619.50" width="1" height="5.50" fill="#000"/>
<rect x="542.90" y="619.50" width="1" height="5.50" fill="#000"/>
<rect x="549.10" y="619.50" width="1" height="5.50" fill="#000"/>
<rect x="555.30" y="619.50" width="1" height="5.50" fill="#000"/>
<rect x="561.50" y="619.50" width="1" height="9.00" fill="#000"/>
<rect x="567.70" y="619.50" width="1" height="5.50" fill="#000"/>
<rect x="573.90" y="619.50" width="1" height="5.50" fill="#000"/>
<rect x="580.10" y="619.50" width="1" height="5.50" fill="#000"/>
<rect x="586.30" y="619.50" width="1" height="5.50" fill="#000"/>
<rect x="592.50" y="619.50" width="1" height="9.00" fill="#000"/>
<rect x="598.70" y="619.50" width="1" height="5.50" fill="#000"/>
<rect x="604.90" y="619.50" width="1" height="5.50" fill="#000"/>
<rect x="611.10" y="619.50" width="1" height="5.50" fill="#000"/>
<rect x="617.30" y="619.50" width="1" height="5.50" fill="#000"/>
<text x="531.3" y="642.5" font-size="12" text-anchor="middle" textLength="14.5" lengthAdjust="spacing" >25</text>
<text x="562.3" y="642.5" font-size="12" text-anchor="middle" textLength="14.5" lengthAdjust="spacing" >50</text>
<text x="593.3" y="642.5" font-size="12" text-anchor="middle" textLength="14.5" lengthAdjust="spacing" >75</text>
<text x="493.8" y="191.6" font-size="13" textLength="39.5" lengthAdjust="spacing" stroke="#fff" stroke-width="0.08" >←PNG</text>
<text x="555.6" y="191.6" font-size="13" textLength="73" lengthAdjust="spacing" stroke="#fff" stroke-width="0.08" >Offshore→</text>
<rect x="648.00" y="204.50" width="1" height="415.00" fill="#000"/>
<rect x="771.00" y="204.50" width="1" height="415.00" fill="#000"/>
<rect x="648.50" y="204.00" width="123.00" height="1" fill="#000"/>
<rect x="648.50" y="619.00" width="123.00" height="1" fill="#000"/>
<rect x="653.00" y="199.25" width="1" height="5.25" fill="#000"/>
<rect x="659.20" y="199.25" width="1" height="5.25" fill="#000"/>
<rect x="665.40" y="199.25" width="1" height="5.25" fill="#000"/>
<rect x="671.60" y="199.25" width="1" height="5.25" fill="#000"/>
<rect x="677.80" y="194.00" width="1" height="10.50" fill="#000"/>
<rect x="684.00" y="199.25" width="1" height="5.25" fill="#000"/>
<rect x="690.20" y="199.25" width="1" height="5.25" fill="#000"/>
<rect x="696.40" y="199.25" width="1" height="5.25" fill="#000"/>
<rect x="702.60" y="199.25" width="1" height="5.25" fill="#000"/>
<rect x="708.80" y="194.00" width="1" height="10.50" fill="#000"/>
<rect x="715.00" y="199.25" width="1" height="5.25" fill="#000"/>
<rect x="721.20" y="199.25" width="1" height="5.25" fill="#000"/>
<rect x="727.40" y="199.25" width="1" height="5.25" fill="#000"/>
<rect x="733.60" y="199.25" width="1" height="5.25" fill="#000"/>
<rect x="739.80" y="194.00" width="1" height="10.50" fill="#000"/>
<rect x="746.00" y="199.25" width="1" height="5.25" fill="#000"/>
<rect x="752.20" y="199.25" width="1" height="5.25" fill="#000"/>
<rect x="758.40" y="199.25" width="1" height="5.25" fill="#000"/>
<rect x="764.60" y="199.25" width="1" height="5.25" fill="#000"/>
<rect x="653.00" y="619.50" width="1" height="5.50" fill="#000"/>
<rect x="659.20" y="619.50" width="1" height="5.50" fill="#000"/>
<rect x="665.40" y="619.50" width="1" height="5.50" fill="#000"/>
<rect x="671.60" y="619.50" width="1" height="5.50" fill="#000"/>
<rect x="677.80" y="619.50" width="1" height="9.00" fill="#000"/>
<rect x="684.00" y="619.50" width="1" height="5.50" fill="#000"/>
<rect x="690.20" y="619.50" width="1" height="5.50" fill="#000"/>
<rect x="696.40" y="619.50" width="1" height="5.50" fill="#000"/>
<rect x="702.60" y="619.50" width="1" height="5.50" fill="#000"/>
<rect x="708.80" y="619.50" width="1" height="9.00" fill="#000"/>
<rect x="715.00" y="619.50" width="1" height="5.50" fill="#000"/>
<rect x="721.20" y="619.50" width="1" height="5.50" fill="#000"/>
<rect x="727.40" y="619.50" width="1" height="5.50" fill="#000"/>
<rect x="733.60" y="619.50" width="1" height="5.50" fill="#000"/>
<rect x="739.80" y="619.50" width="1" height="9.00" fill="#000"/>
<rect x="746.00" y="619.50" width="1" height="5.50" fill="#000"/>
<rect x="752.20" y="619.50" width="1" height="5.50" fill="#000"/>
<rect x="758.40" y="619.50" width="1" height="5.50" fill="#000"/>
<rect x="764.60" y="619.50" width="1" height="5.50" fill="#000"/>
<text x="678.5999999999999" y="642.5" font-size="12" text-anchor="middle" textLength="14.5" lengthAdjust="spacing" >25</text>
<text x="709.5999999999999" y="642.5" font-size="12" text-anchor="middle" textLength="14.5" lengthAdjust="spacing" >50</text>
<text x="740.5999999999999" y="642.5" font-size="12" text-anchor="middle" textLength="14.5" lengthAdjust="spacing" >75</text>
<text x="642.3" y="191.6" font-size="13" textLength="39.5" lengthAdjust="spacing" stroke="#fff" stroke-width="0.08" >←PNG</text>
<text x="704.0999999999999" y="191.6" font-size="13" textLength="73" lengthAdjust="spacing" stroke="#fff" stroke-width="0.08" >Offshore→</text>
<rect x="343.00" y="204.00" width="10.50" height="1" fill="#000"/>
<rect x="476.50" y="204.00" width="24.00" height="1" fill="#000"/>
<rect x="623.50" y="204.00" width="25.00" height="1" fill="#000"/>
<rect x="771.50" y="204.00" width="10.00" height="1" fill="#000"/>
<text x="336" y="208.9" font-size="12.5" text-anchor="end" textLength="6.5" lengthAdjust="spacing" >0</text>
<text x="810" y="208.9" font-size="12.5" text-anchor="end" textLength="6.5" lengthAdjust="spacing" >0</text>
<rect x="348.00" y="287.00" width="5.50" height="1" fill="#000"/>
<rect x="476.50" y="287.00" width="5.50" height="1" fill="#000"/>
<rect x="495.00" y="287.00" width="5.50" height="1" fill="#000"/>
<rect x="623.50" y="287.00" width="5.50" height="1" fill="#000"/>
<rect x="643.00" y="287.00" width="5.50" height="1" fill="#000"/>
<rect x="771.50" y="287.00" width="5.00" height="1" fill="#000"/>
<rect x="343.00" y="370.00" width="10.50" height="1" fill="#000"/>
<rect x="476.50" y="370.00" width="10.50" height="1" fill="#000"/>
<rect x="490.00" y="370.00" width="10.50" height="1" fill="#000"/>
<rect x="623.50" y="370.00" width="10.50" height="1" fill="#000"/>
<rect x="638.00" y="370.00" width="10.50" height="1" fill="#000"/>
<rect x="771.50" y="370.00" width="10.00" height="1" fill="#000"/>
<text x="336" y="374.9" font-size="12.5" text-anchor="end" textLength="21.5" lengthAdjust="spacing" >200</text>
<text x="810" y="374.9" font-size="12.5" text-anchor="end" textLength="21.5" lengthAdjust="spacing" >200</text>
<rect x="348.00" y="453.00" width="5.50" height="1" fill="#000"/>
<rect x="476.50" y="453.00" width="5.50" height="1" fill="#000"/>
<rect x="495.00" y="453.00" width="5.50" height="1" fill="#000"/>
<rect x="623.50" y="453.00" width="5.50" height="1" fill="#000"/>
<rect x="643.00" y="453.00" width="5.50" height="1" fill="#000"/>
<rect x="771.50" y="453.00" width="5.00" height="1" fill="#000"/>
<rect x="343.00" y="536.00" width="10.50" height="1" fill="#000"/>
<rect x="476.50" y="536.00" width="10.50" height="1" fill="#000"/>
<rect x="490.00" y="536.00" width="10.50" height="1" fill="#000"/>
<rect x="623.50" y="536.00" width="10.50" height="1" fill="#000"/>
<rect x="638.00" y="536.00" width="10.50" height="1" fill="#000"/>
<rect x="771.50" y="536.00" width="10.00" height="1" fill="#000"/>
<text x="336" y="540.9" font-size="12.5" text-anchor="end" textLength="21.5" lengthAdjust="spacing" >400</text>
<text x="810" y="540.9" font-size="12.5" text-anchor="end" textLength="21.5" lengthAdjust="spacing" >400</text>
<rect x="348.00" y="619.00" width="5.50" height="1" fill="#000"/>
<rect x="476.50" y="619.00" width="5.50" height="1" fill="#000"/>
<rect x="495.00" y="619.00" width="5.50" height="1" fill="#000"/>
<rect x="623.50" y="619.00" width="5.50" height="1" fill="#000"/>
<rect x="643.00" y="619.00" width="5.50" height="1" fill="#000"/>
<rect x="771.50" y="619.00" width="5.00" height="1" fill="#000"/>
<text x="303.5" y="412" font-size="18" text-anchor="middle" textLength="91" lengthAdjust="spacing" transform="rotate(-90 303.5 412)" stroke="#fff" stroke-width="0.38" >Depth (m)</text>
<text x="342" y="668.5" font-size="12.5" textLength="144" lengthAdjust="spacing" >4−30 by 2 + 5, 29, 31</text>
<text x="415.5" y="687" font-size="12.5" text-anchor="middle" >°C</text>
<text x="502.5" y="668.5" font-size="12.5" textLength="120" lengthAdjust="spacing" >34−36 by .2 +34.5</text>
<text x="562" y="685" font-size="12.5" text-anchor="middle" textLength="20" lengthAdjust="spacing" >psu</text>
<text x="645" y="668.5" font-size="12.5" textLength="120" lengthAdjust="spacing" >±5−30 by 5, 40, 60</text>
<text x="710" y="685" font-size="12.5" text-anchor="middle" textLength="32" lengthAdjust="spacing" >cm/s</text>
<rect x="27.00" y="665.0" width="20.83" height="16.0" fill="#3333ff"/>
<rect x="47.83" y="665.0" width="20.83" height="16.0" fill="#5252f7"/>
<rect x="68.67" y="665.0" width="20.83" height="16.0" fill="#7171ef"/>
<rect x="89.50" y="665.0" width="20.83" height="16.0" fill="#9090e8"/>
<rect x="110.33" y="665.0" width="20.83" height="16.0" fill="#afafe0"/>
<rect x="131.17" y="665.0" width="20.83" height="16.0" fill="#ceced9"/>
<rect x="152.00" y="665.0" width="20.83" height="16.0" fill="#decece"/>
<rect x="172.83" y="665.0" width="20.83" height="16.0" fill="#e4afaf"/>
<rect x="193.67" y="665.0" width="20.83" height="16.0" fill="#eb9090"/>
<rect x="214.50" y="665.0" width="20.83" height="16.0" fill="#f17171"/>
<rect x="235.33" y="665.0" width="20.83" height="16.0" fill="#f85252"/>
<rect x="256.17" y="665.0" width="20.83" height="16.0" fill="#ff3333"/>
<rect x="26.50" y="665.00" width="1" height="16.00" fill="#000"/>
<rect x="47.33" y="665.00" width="1" height="16.00" fill="#000"/>
<rect x="68.17" y="665.00" width="1" height="16.00" fill="#000"/>
<rect x="89.00" y="665.00" width="1" height="16.00" fill="#000"/>
<rect x="109.83" y="665.00" width="1" height="16.00" fill="#000"/>
<rect x="130.67" y="665.00" width="1" height="16.00" fill="#000"/>
<rect x="151.50" y="665.00" width="1" height="16.00" fill="#000"/>
<rect x="172.33" y="665.00" width="1" height="16.00" fill="#000"/>
<rect x="193.17" y="665.00" width="1" height="16.00" fill="#000"/>
<rect x="214.00" y="665.00" width="1" height="16.00" fill="#000"/>
<rect x="234.83" y="665.00" width="1" height="16.00" fill="#000"/>
<rect x="255.67" y="665.00" width="1" height="16.00" fill="#000"/>
<rect x="276.50" y="665.00" width="1" height="16.00" fill="#000"/>
<rect x="26.50" y="664.50" width="251.00" height="1" fill="#000"/>
<rect x="26.50" y="680.50" width="251.00" height="1" fill="#000"/>
<text x="25.5" y="694.5" font-size="11" text-anchor="middle" textLength="21" lengthAdjust="spacing" >25.6</text>
<text x="67.16666666666666" y="694.5" font-size="11" text-anchor="middle" textLength="11" lengthAdjust="spacing" >26</text>
<text x="108.83333333333333" y="694.5" font-size="11" text-anchor="middle" textLength="21" lengthAdjust="spacing" >26.4</text>
<text x="150.5" y="694.5" font-size="11" text-anchor="middle" textLength="21" lengthAdjust="spacing" >26.8</text>
<text x="192.16666666666666" y="694.5" font-size="11" text-anchor="middle" textLength="21" lengthAdjust="spacing" >27.2</text>
<text x="233.83333333333331" y="694.5" font-size="11" text-anchor="middle" textLength="21" lengthAdjust="spacing" >27.6</text>
<text x="275.5" y="694.5" font-size="11" text-anchor="middle" textLength="11" lengthAdjust="spacing" >28</text>
<g stroke="#555" stroke-width="1.3" shape-rendering="auto"><line x1="809.8" y1="702.8" x2="820.3" y2="693.3"/><line x1="814" y1="702.8" x2="820.3" y2="697.3"/><line x1="818" y1="702.8" x2="820.3" y2="700.6"/></g>
<path d="M806.5 704V689.5H821" fill="none" stroke="#d2d2d2"/>
<g>
<polyline points="352.7,144.3 354.7,142.7 357.2,142.2 359.7,132.2 362.7,127.2 365.5,129.7 369.7,137.2 372.7,123.8 377.7,115.0 382.7,112.7 387.7,104.3 392.2,69.3 398.8,82.7 405.5,99.3 413.0,91.0 420.5,92.2 428.8,91.3 437.2,82.2 446.7,93.0 456.0,60.0 465.5,67.2 476.3,47.7" fill="none" stroke="#1e1eff" stroke-width="1.3" />
<polygon points="350.7,145.9 354.7,145.9 352.7,142.1" fill="none" stroke="#1e1eff" stroke-width="1"/>
<polygon points="352.7,144.3 356.7,144.3 354.7,140.5" fill="none" stroke="#1e1eff" stroke-width="1"/>
<polygon points="355.2,143.8 359.2,143.8 357.2,140.0" fill="none" stroke="#1e1eff" stroke-width="1"/>
<polygon points="357.7,133.8 361.7,133.8 359.7,130.0" fill="none" stroke="#1e1eff" stroke-width="1"/>
<polygon points="360.7,128.8 364.7,128.8 362.7,125.0" fill="none" stroke="#1e1eff" stroke-width="1"/>
<polygon points="363.5,131.3 367.5,131.3 365.5,127.5" fill="none" stroke="#1e1eff" stroke-width="1"/>
<polygon points="367.7,138.8 371.7,138.8 369.7,135.0" fill="none" stroke="#1e1eff" stroke-width="1"/>
<polygon points="370.7,125.4 374.7,125.4 372.7,121.6" fill="none" stroke="#1e1eff" stroke-width="1"/>
<polygon points="375.7,116.6 379.7,116.6 377.7,112.8" fill="none" stroke="#1e1eff" stroke-width="1"/>
<polygon points="380.7,114.3 384.7,114.3 382.7,110.5" fill="none" stroke="#1e1eff" stroke-width="1"/>
<polygon points="385.7,105.9 389.7,105.9 387.7,102.1" fill="none" stroke="#1e1eff" stroke-width="1"/>
<polygon points="390.2,70.9 394.2,70.9 392.2,67.1" fill="none" stroke="#1e1eff" stroke-width="1"/>
<polygon points="396.8,84.3 400.8,84.3 398.8,80.5" fill="none" stroke="#1e1eff" stroke-width="1"/>
<polygon points="403.5,100.9 407.5,100.9 405.5,97.1" fill="none" stroke="#1e1eff" stroke-width="1"/>
<polygon points="411.0,92.6 415.0,92.6 413.0,88.8" fill="none" stroke="#1e1eff" stroke-width="1"/>
<polygon points="418.5,93.8 422.5,93.8 420.5,90.0" fill="none" stroke="#1e1eff" stroke-width="1"/>
<polygon points="426.8,92.9 430.8,92.9 428.8,89.1" fill="none" stroke="#1e1eff" stroke-width="1"/>
<polygon points="435.2,83.8 439.2,83.8 437.2,80.0" fill="none" stroke="#1e1eff" stroke-width="1"/>
<polygon points="444.7,94.6 448.7,94.6 446.7,90.8" fill="none" stroke="#1e1eff" stroke-width="1"/>
<polygon points="454.0,61.6 458.0,61.6 456.0,57.8" fill="none" stroke="#1e1eff" stroke-width="1"/>
<polygon points="463.5,68.8 467.5,68.8 465.5,65.0" fill="none" stroke="#1e1eff" stroke-width="1"/>
<polygon points="474.3,49.3 478.3,49.3 476.3,45.5" fill="none" stroke="#1e1eff" stroke-width="1"/>
<polyline points="500.3,41.3 501.7,35.5 503.3,73.0 505.0,77.2 507.5,71.7 510.0,80.5 513.3,85.5 517.0,93.3 520.0,84.3 525.3,81.7 530.3,78.0 535.3,83.0 540.3,86.3 546.7,111.0 553.3,93.0 560.3,108.0 568.3,111.0 576.7,117.7 585.8,137.2 594.7,113.3 603.7,146.0 613.3,138.0 623.3,147.7" fill="none" stroke="#1e1eff" stroke-width="1.3" />
<polygon points="498.3,42.9 502.3,42.9 500.3,39.1" fill="none" stroke="#1e1eff" stroke-width="1"/>
<polygon points="499.7,37.1 503.7,37.1 501.7,33.3" fill="none" stroke="#1e1eff" stroke-width="1"/>
<polygon points="501.3,74.6 505.3,74.6 503.3,70.8" fill="none" stroke="#1e1eff" stroke-width="1"/>
<polygon points="503.0,78.8 507.0,78.8 505.0,75.0" fill="none" stroke="#1e1eff" stroke-width="1"/>
<polygon points="505.5,73.3 509.5,73.3 507.5,69.5" fill="none" stroke="#1e1eff" stroke-width="1"/>
<polygon points="508.0,82.1 512.0,82.1 510.0,78.3" fill="none" stroke="#1e1eff" stroke-width="1"/>
<polygon points="511.3,87.1 515.3,87.1 513.3,83.3" fill="none" stroke="#1e1eff" stroke-width="1"/>
<polygon points="515.0,94.9 519.0,94.9 517.0,91.1" fill="none" stroke="#1e1eff" stroke-width="1"/>
<polygon points="518.0,85.9 522.0,85.9 520.0,82.1" fill="none" stroke="#1e1eff" stroke-width="1"/>
<polygon points="523.3,83.3 527.3,83.3 525.3,79.5" fill="none" stroke="#1e1eff" stroke-width="1"/>
<polygon points="528.3,79.6 532.3,79.6 530.3,75.8" fill="none" stroke="#1e1eff" stroke-width="1"/>
<polygon points="533.3,84.6 537.3,84.6 535.3,80.8" fill="none" stroke="#1e1eff" stroke-width="1"/>
<polygon points="538.3,87.9 542.3,87.9 540.3,84.1" fill="none" stroke="#1e1eff" stroke-width="1"/>
<polygon points="544.7,112.6 548.7,112.6 546.7,108.8" fill="none" stroke="#1e1eff" stroke-width="1"/>
<polygon points="551.3,94.6 555.3,94.6 553.3,90.8" fill="none" stroke="#1e1eff" stroke-width="1"/>
<polygon points="558.3,109.6 562.3,109.6 560.3,105.8" fill="none" stroke="#1e1eff" stroke-width="1"/>
<polygon points="566.3,112.6 570.3,112.6 568.3,108.8" fill="none" stroke="#1e1eff" stroke-width="1"/>
<polygon points="574.7,119.3 578.7,119.3 576.7,115.5" fill="none" stroke="#1e1eff" stroke-width="1"/>
<polygon points="583.8,138.8 587.8,138.8 585.8,135.0" fill="none" stroke="#1e1eff" stroke-width="1"/>
<polygon points="592.7,114.9 596.7,114.9 594.7,111.1" fill="none" stroke="#1e1eff" stroke-width="1"/>
<polygon points="601.7,147.6 605.7,147.6 603.7,143.8" fill="none" stroke="#1e1eff" stroke-width="1"/>
<polygon points="611.3,139.6 615.3,139.6 613.3,135.8" fill="none" stroke="#1e1eff" stroke-width="1"/>
<polygon points="621.3,149.3 625.3,149.3 623.3,145.5" fill="none" stroke="#1e1eff" stroke-width="1"/>
<polyline points="664.7,95.0 668.0,92.7 673.0,93.8 677.7,94.7 682.7,93.8 687.7,93.8 694.7,93.8 701.0,91.0 708.0,89.3 715.5,86.7 724.3,82.7 733.0,78.0 742.2,76.0 751.3,77.2 761.3,78.8 771.3,76.3" fill="none" stroke="#1e1eff" stroke-width="1.3" />
<polygon points="662.7,96.6 666.7,96.6 664.7,92.8" fill="none" stroke="#1e1eff" stroke-width="1"/>
<polygon points="666.0,94.3 670.0,94.3 668.0,90.5" fill="none" stroke="#1e1eff" stroke-width="1"/>
<polygon points="671.0,95.4 675.0,95.4 673.0,91.6" fill="none" stroke="#1e1eff" stroke-width="1"/>
<polygon points="675.7,96.3 679.7,96.3 677.7,92.5" fill="none" stroke="#1e1eff" stroke-width="1"/>
<polygon points="680.7,95.4 684.7,95.4 682.7,91.6" fill="none" stroke="#1e1eff" stroke-width="1"/>
<polygon points="685.7,95.4 689.7,95.4 687.7,91.6" fill="none" stroke="#1e1eff" stroke-width="1"/>
<polygon points="692.7,95.4 696.7,95.4 694.7,91.6" fill="none" stroke="#1e1eff" stroke-width="1"/>
<polygon points="699.0,92.6 703.0,92.6 701.0,88.8" fill="none" stroke="#1e1eff" stroke-width="1"/>
<polygon points="706.0,90.9 710.0,90.9 708.0,87.1" fill="none" stroke="#1e1eff" stroke-width="1"/>
<polygon points="713.5,88.3 717.5,88.3 715.5,84.5" fill="none" stroke="#1e1eff" stroke-width="1"/>
<polygon points="722.3,84.3 726.3,84.3 724.3,80.5" fill="none" stroke="#1e1eff" stroke-width="1"/>
<polygon points="731.0,79.6 735.0,79.6 733.0,75.8" fill="none" stroke="#1e1eff" stroke-width="1"/>
<polygon points="740.2,77.6 744.2,77.6 742.2,73.8" fill="none" stroke="#1e1eff" stroke-width="1"/>
<polygon points="749.3,78.8 753.3,78.8 751.3,75.0" fill="none" stroke="#1e1eff" stroke-width="1"/>
<polygon points="759.3,80.4 763.3,80.4 761.3,76.6" fill="none" stroke="#1e1eff" stroke-width="1"/>
<polygon points="769.3,77.9 773.3,77.9 771.3,74.1" fill="none" stroke="#1e1eff" stroke-width="1"/>
</g>
</svg>
</body></html>
